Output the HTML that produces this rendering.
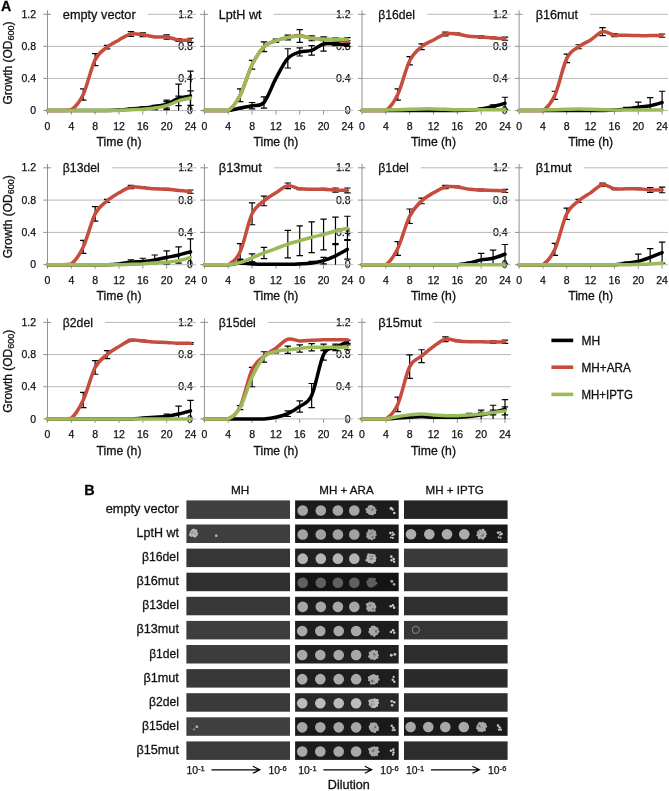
<!DOCTYPE html>
<html><head><meta charset="utf-8"><style>html,body{margin:0;padding:0;background:#fff;width:669px;height:791px;overflow:hidden}svg{display:block;will-change:transform}text{stroke:#111;stroke-width:0.3px}text.t{stroke-width:0.25px}</style></head><body>
<svg width="669" height="791" viewBox="0 0 669 791" font-family='"Liberation Sans", sans-serif' fill="#111">
<rect width="669" height="791" fill="#fff"/>
<text x="0.9" y="10.9" font-size="14.2" font-weight="bold" fill="#000">A</text>
<text class="t" x="36" y="114.1" font-size="10.5" text-anchor="end">0</text>
<text class="t" x="36" y="82.03" font-size="10.5" text-anchor="end">0.4</text>
<text class="t" x="36" y="49.97" font-size="10.5" text-anchor="end">0.8</text>
<text class="t" x="36" y="17.9" font-size="10.5" text-anchor="end">1.2</text>
<text class="t" x="47.5" y="130" font-size="10.5" text-anchor="middle">0</text>
<text class="t" x="71.33" y="130" font-size="10.5" text-anchor="middle">4</text>
<text class="t" x="95.17" y="130" font-size="10.5" text-anchor="middle">8</text>
<text class="t" x="119" y="130" font-size="10.5" text-anchor="middle">12</text>
<text class="t" x="142.83" y="130" font-size="10.5" text-anchor="middle">16</text>
<text class="t" x="166.67" y="130" font-size="10.5" text-anchor="middle">20</text>
<text class="t" x="190.5" y="130" font-size="10.5" text-anchor="middle">24</text>
<text class="t" x="192.9" y="114.1" font-size="10.5" text-anchor="end">0</text>
<text class="t" x="192.9" y="82.03" font-size="10.5" text-anchor="end">0.4</text>
<text class="t" x="192.9" y="49.97" font-size="10.5" text-anchor="end">0.8</text>
<text class="t" x="192.9" y="17.9" font-size="10.5" text-anchor="end">1.2</text>
<text class="t" x="204.4" y="130" font-size="10.5" text-anchor="middle">0</text>
<text class="t" x="228.23" y="130" font-size="10.5" text-anchor="middle">4</text>
<text class="t" x="252.07" y="130" font-size="10.5" text-anchor="middle">8</text>
<text class="t" x="275.9" y="130" font-size="10.5" text-anchor="middle">12</text>
<text class="t" x="299.73" y="130" font-size="10.5" text-anchor="middle">16</text>
<text class="t" x="323.57" y="130" font-size="10.5" text-anchor="middle">20</text>
<text class="t" x="347.4" y="130" font-size="10.5" text-anchor="middle">24</text>
<text class="t" x="350.5" y="114.1" font-size="10.5" text-anchor="end">0</text>
<text class="t" x="350.5" y="82.03" font-size="10.5" text-anchor="end">0.4</text>
<text class="t" x="350.5" y="49.97" font-size="10.5" text-anchor="end">0.8</text>
<text class="t" x="350.5" y="17.9" font-size="10.5" text-anchor="end">1.2</text>
<text class="t" x="362" y="130" font-size="10.5" text-anchor="middle">0</text>
<text class="t" x="385.83" y="130" font-size="10.5" text-anchor="middle">4</text>
<text class="t" x="409.67" y="130" font-size="10.5" text-anchor="middle">8</text>
<text class="t" x="433.5" y="130" font-size="10.5" text-anchor="middle">12</text>
<text class="t" x="457.33" y="130" font-size="10.5" text-anchor="middle">16</text>
<text class="t" x="481.17" y="130" font-size="10.5" text-anchor="middle">20</text>
<text class="t" x="505" y="130" font-size="10.5" text-anchor="middle">24</text>
<text class="t" x="507.6" y="114.1" font-size="10.5" text-anchor="end">0</text>
<text class="t" x="507.6" y="82.03" font-size="10.5" text-anchor="end">0.4</text>
<text class="t" x="507.6" y="49.97" font-size="10.5" text-anchor="end">0.8</text>
<text class="t" x="507.6" y="17.9" font-size="10.5" text-anchor="end">1.2</text>
<text class="t" x="519.1" y="130" font-size="10.5" text-anchor="middle">0</text>
<text class="t" x="542.93" y="130" font-size="10.5" text-anchor="middle">4</text>
<text class="t" x="566.77" y="130" font-size="10.5" text-anchor="middle">8</text>
<text class="t" x="590.6" y="130" font-size="10.5" text-anchor="middle">12</text>
<text class="t" x="614.43" y="130" font-size="10.5" text-anchor="middle">16</text>
<text class="t" x="638.27" y="130" font-size="10.5" text-anchor="middle">20</text>
<text class="t" x="662.1" y="130" font-size="10.5" text-anchor="middle">24</text>
<text class="t" x="36" y="268.3" font-size="10.5" text-anchor="end">0</text>
<text class="t" x="36" y="236" font-size="10.5" text-anchor="end">0.4</text>
<text class="t" x="36" y="203.7" font-size="10.5" text-anchor="end">0.8</text>
<text class="t" x="36" y="171.4" font-size="10.5" text-anchor="end">1.2</text>
<text class="t" x="47.5" y="284.2" font-size="10.5" text-anchor="middle">0</text>
<text class="t" x="71.33" y="284.2" font-size="10.5" text-anchor="middle">4</text>
<text class="t" x="95.17" y="284.2" font-size="10.5" text-anchor="middle">8</text>
<text class="t" x="119" y="284.2" font-size="10.5" text-anchor="middle">12</text>
<text class="t" x="142.83" y="284.2" font-size="10.5" text-anchor="middle">16</text>
<text class="t" x="166.67" y="284.2" font-size="10.5" text-anchor="middle">20</text>
<text class="t" x="190.5" y="284.2" font-size="10.5" text-anchor="middle">24</text>
<text class="t" x="192.9" y="268.3" font-size="10.5" text-anchor="end">0</text>
<text class="t" x="192.9" y="236" font-size="10.5" text-anchor="end">0.4</text>
<text class="t" x="192.9" y="203.7" font-size="10.5" text-anchor="end">0.8</text>
<text class="t" x="192.9" y="171.4" font-size="10.5" text-anchor="end">1.2</text>
<text class="t" x="204.4" y="284.2" font-size="10.5" text-anchor="middle">0</text>
<text class="t" x="228.23" y="284.2" font-size="10.5" text-anchor="middle">4</text>
<text class="t" x="252.07" y="284.2" font-size="10.5" text-anchor="middle">8</text>
<text class="t" x="275.9" y="284.2" font-size="10.5" text-anchor="middle">12</text>
<text class="t" x="299.73" y="284.2" font-size="10.5" text-anchor="middle">16</text>
<text class="t" x="323.57" y="284.2" font-size="10.5" text-anchor="middle">20</text>
<text class="t" x="347.4" y="284.2" font-size="10.5" text-anchor="middle">24</text>
<text class="t" x="350.5" y="268.3" font-size="10.5" text-anchor="end">0</text>
<text class="t" x="350.5" y="236" font-size="10.5" text-anchor="end">0.4</text>
<text class="t" x="350.5" y="203.7" font-size="10.5" text-anchor="end">0.8</text>
<text class="t" x="350.5" y="171.4" font-size="10.5" text-anchor="end">1.2</text>
<text class="t" x="362" y="284.2" font-size="10.5" text-anchor="middle">0</text>
<text class="t" x="385.83" y="284.2" font-size="10.5" text-anchor="middle">4</text>
<text class="t" x="409.67" y="284.2" font-size="10.5" text-anchor="middle">8</text>
<text class="t" x="433.5" y="284.2" font-size="10.5" text-anchor="middle">12</text>
<text class="t" x="457.33" y="284.2" font-size="10.5" text-anchor="middle">16</text>
<text class="t" x="481.17" y="284.2" font-size="10.5" text-anchor="middle">20</text>
<text class="t" x="505" y="284.2" font-size="10.5" text-anchor="middle">24</text>
<text class="t" x="507.6" y="268.3" font-size="10.5" text-anchor="end">0</text>
<text class="t" x="507.6" y="236" font-size="10.5" text-anchor="end">0.4</text>
<text class="t" x="507.6" y="203.7" font-size="10.5" text-anchor="end">0.8</text>
<text class="t" x="507.6" y="171.4" font-size="10.5" text-anchor="end">1.2</text>
<text class="t" x="519.1" y="284.2" font-size="10.5" text-anchor="middle">0</text>
<text class="t" x="542.93" y="284.2" font-size="10.5" text-anchor="middle">4</text>
<text class="t" x="566.77" y="284.2" font-size="10.5" text-anchor="middle">8</text>
<text class="t" x="590.6" y="284.2" font-size="10.5" text-anchor="middle">12</text>
<text class="t" x="614.43" y="284.2" font-size="10.5" text-anchor="middle">16</text>
<text class="t" x="638.27" y="284.2" font-size="10.5" text-anchor="middle">20</text>
<text class="t" x="662.1" y="284.2" font-size="10.5" text-anchor="middle">24</text>
<text class="t" x="36" y="422.5" font-size="10.5" text-anchor="end">0</text>
<text class="t" x="36" y="390.33" font-size="10.5" text-anchor="end">0.4</text>
<text class="t" x="36" y="358.17" font-size="10.5" text-anchor="end">0.8</text>
<text class="t" x="36" y="326" font-size="10.5" text-anchor="end">1.2</text>
<text class="t" x="47.5" y="438.4" font-size="10.5" text-anchor="middle">0</text>
<text class="t" x="71.33" y="438.4" font-size="10.5" text-anchor="middle">4</text>
<text class="t" x="95.17" y="438.4" font-size="10.5" text-anchor="middle">8</text>
<text class="t" x="119" y="438.4" font-size="10.5" text-anchor="middle">12</text>
<text class="t" x="142.83" y="438.4" font-size="10.5" text-anchor="middle">16</text>
<text class="t" x="166.67" y="438.4" font-size="10.5" text-anchor="middle">20</text>
<text class="t" x="190.5" y="438.4" font-size="10.5" text-anchor="middle">24</text>
<text class="t" x="192.9" y="422.5" font-size="10.5" text-anchor="end">0</text>
<text class="t" x="192.9" y="390.33" font-size="10.5" text-anchor="end">0.4</text>
<text class="t" x="192.9" y="358.17" font-size="10.5" text-anchor="end">0.8</text>
<text class="t" x="192.9" y="326" font-size="10.5" text-anchor="end">1.2</text>
<text class="t" x="204.4" y="438.4" font-size="10.5" text-anchor="middle">0</text>
<text class="t" x="228.23" y="438.4" font-size="10.5" text-anchor="middle">4</text>
<text class="t" x="252.07" y="438.4" font-size="10.5" text-anchor="middle">8</text>
<text class="t" x="275.9" y="438.4" font-size="10.5" text-anchor="middle">12</text>
<text class="t" x="299.73" y="438.4" font-size="10.5" text-anchor="middle">16</text>
<text class="t" x="323.57" y="438.4" font-size="10.5" text-anchor="middle">20</text>
<text class="t" x="347.4" y="438.4" font-size="10.5" text-anchor="middle">24</text>
<text class="t" x="350.5" y="422.5" font-size="10.5" text-anchor="end">0</text>
<text class="t" x="350.5" y="390.33" font-size="10.5" text-anchor="end">0.4</text>
<text class="t" x="350.5" y="358.17" font-size="10.5" text-anchor="end">0.8</text>
<text class="t" x="350.5" y="326" font-size="10.5" text-anchor="end">1.2</text>
<text class="t" x="362" y="438.4" font-size="10.5" text-anchor="middle">0</text>
<text class="t" x="385.83" y="438.4" font-size="10.5" text-anchor="middle">4</text>
<text class="t" x="409.67" y="438.4" font-size="10.5" text-anchor="middle">8</text>
<text class="t" x="433.5" y="438.4" font-size="10.5" text-anchor="middle">12</text>
<text class="t" x="457.33" y="438.4" font-size="10.5" text-anchor="middle">16</text>
<text class="t" x="481.17" y="438.4" font-size="10.5" text-anchor="middle">20</text>
<text class="t" x="505" y="438.4" font-size="10.5" text-anchor="middle">24</text>
<line x1="47.5" y1="78.43" x2="196.2" y2="78.43" stroke="#B8B8B8" stroke-width="1"/>
<line x1="47.5" y1="46.37" x2="196.2" y2="46.37" stroke="#B8B8B8" stroke-width="1"/>
<line x1="47.5" y1="14.3" x2="196.2" y2="14.3" stroke="#B8B8B8" stroke-width="1"/>
<line x1="47.5" y1="110.5" x2="196.2" y2="110.5" stroke="#B8B8B8" stroke-width="1"/>
<rect x="48.5" y="8.3" width="99.2" height="12" fill="#fff"/>
<line x1="47.5" y1="10.3" x2="47.5" y2="114.5" stroke="#929292" stroke-width="1"/>
<line x1="43.3" y1="110.5" x2="47.5" y2="110.5" stroke="#929292" stroke-width="1"/>
<line x1="43.3" y1="78.43" x2="47.5" y2="78.43" stroke="#929292" stroke-width="1"/>
<line x1="43.3" y1="46.37" x2="47.5" y2="46.37" stroke="#929292" stroke-width="1"/>
<line x1="43.3" y1="14.3" x2="51.1" y2="14.3" stroke="#929292" stroke-width="1"/>
<line x1="71.33" y1="110.5" x2="71.33" y2="114.5" stroke="#929292" stroke-width="1"/>
<line x1="95.17" y1="110.5" x2="95.17" y2="114.5" stroke="#929292" stroke-width="1"/>
<line x1="119" y1="110.5" x2="119" y2="114.5" stroke="#929292" stroke-width="1"/>
<line x1="142.83" y1="110.5" x2="142.83" y2="114.5" stroke="#929292" stroke-width="1"/>
<line x1="166.67" y1="110.5" x2="166.67" y2="114.5" stroke="#929292" stroke-width="1"/>
<line x1="190.5" y1="110.5" x2="190.5" y2="114.5" stroke="#929292" stroke-width="1"/>
<text x="62.8" y="18.8" font-size="13.6" textLength="72.9" lengthAdjust="spacingAndGlyphs">empty vector</text>
<text x="119" y="146.1" font-size="12" text-anchor="middle" textLength="44.9" lengthAdjust="spacingAndGlyphs">Time (h)</text>
<line x1="204.4" y1="78.43" x2="353.1" y2="78.43" stroke="#B8B8B8" stroke-width="1"/>
<line x1="204.4" y1="46.37" x2="353.1" y2="46.37" stroke="#B8B8B8" stroke-width="1"/>
<line x1="204.4" y1="14.3" x2="353.1" y2="14.3" stroke="#B8B8B8" stroke-width="1"/>
<line x1="204.4" y1="110.5" x2="353.1" y2="110.5" stroke="#B8B8B8" stroke-width="1"/>
<rect x="205.4" y="8.3" width="68.1" height="12" fill="#fff"/>
<line x1="204.4" y1="10.3" x2="204.4" y2="114.5" stroke="#929292" stroke-width="1"/>
<line x1="200.2" y1="110.5" x2="204.4" y2="110.5" stroke="#929292" stroke-width="1"/>
<line x1="200.2" y1="78.43" x2="204.4" y2="78.43" stroke="#929292" stroke-width="1"/>
<line x1="200.2" y1="46.37" x2="204.4" y2="46.37" stroke="#929292" stroke-width="1"/>
<line x1="200.2" y1="14.3" x2="208" y2="14.3" stroke="#929292" stroke-width="1"/>
<line x1="228.23" y1="110.5" x2="228.23" y2="114.5" stroke="#929292" stroke-width="1"/>
<line x1="252.07" y1="110.5" x2="252.07" y2="114.5" stroke="#929292" stroke-width="1"/>
<line x1="275.9" y1="110.5" x2="275.9" y2="114.5" stroke="#929292" stroke-width="1"/>
<line x1="299.73" y1="110.5" x2="299.73" y2="114.5" stroke="#929292" stroke-width="1"/>
<line x1="323.57" y1="110.5" x2="323.57" y2="114.5" stroke="#929292" stroke-width="1"/>
<line x1="347.4" y1="110.5" x2="347.4" y2="114.5" stroke="#929292" stroke-width="1"/>
<text x="218.8" y="18.8" font-size="13.6" textLength="42.7" lengthAdjust="spacingAndGlyphs">LptH wt</text>
<text x="275.9" y="146.1" font-size="12" text-anchor="middle" textLength="44.9" lengthAdjust="spacingAndGlyphs">Time (h)</text>
<line x1="362" y1="78.43" x2="510.7" y2="78.43" stroke="#B8B8B8" stroke-width="1"/>
<line x1="362" y1="46.37" x2="510.7" y2="46.37" stroke="#B8B8B8" stroke-width="1"/>
<line x1="362" y1="14.3" x2="510.7" y2="14.3" stroke="#B8B8B8" stroke-width="1"/>
<line x1="362" y1="110.5" x2="510.7" y2="110.5" stroke="#B8B8B8" stroke-width="1"/>
<rect x="363" y="8.3" width="64.1" height="12" fill="#fff"/>
<line x1="362" y1="10.3" x2="362" y2="114.5" stroke="#929292" stroke-width="1"/>
<line x1="357.8" y1="110.5" x2="362" y2="110.5" stroke="#929292" stroke-width="1"/>
<line x1="357.8" y1="78.43" x2="362" y2="78.43" stroke="#929292" stroke-width="1"/>
<line x1="357.8" y1="46.37" x2="362" y2="46.37" stroke="#929292" stroke-width="1"/>
<line x1="357.8" y1="14.3" x2="365.6" y2="14.3" stroke="#929292" stroke-width="1"/>
<line x1="385.83" y1="110.5" x2="385.83" y2="114.5" stroke="#929292" stroke-width="1"/>
<line x1="409.67" y1="110.5" x2="409.67" y2="114.5" stroke="#929292" stroke-width="1"/>
<line x1="433.5" y1="110.5" x2="433.5" y2="114.5" stroke="#929292" stroke-width="1"/>
<line x1="457.33" y1="110.5" x2="457.33" y2="114.5" stroke="#929292" stroke-width="1"/>
<line x1="481.17" y1="110.5" x2="481.17" y2="114.5" stroke="#929292" stroke-width="1"/>
<line x1="505" y1="110.5" x2="505" y2="114.5" stroke="#929292" stroke-width="1"/>
<text x="378.2" y="18.8" font-size="13.6" textLength="36.9" lengthAdjust="spacingAndGlyphs">β16del</text>
<text x="433.5" y="146.1" font-size="12" text-anchor="middle" textLength="44.9" lengthAdjust="spacingAndGlyphs">Time (h)</text>
<line x1="519.1" y1="78.43" x2="667.8" y2="78.43" stroke="#B8B8B8" stroke-width="1"/>
<line x1="519.1" y1="46.37" x2="667.8" y2="46.37" stroke="#B8B8B8" stroke-width="1"/>
<line x1="519.1" y1="14.3" x2="667.8" y2="14.3" stroke="#B8B8B8" stroke-width="1"/>
<line x1="519.1" y1="110.5" x2="667.8" y2="110.5" stroke="#B8B8B8" stroke-width="1"/>
<rect x="520.1" y="8.3" width="69.9" height="12" fill="#fff"/>
<line x1="519.1" y1="10.3" x2="519.1" y2="114.5" stroke="#929292" stroke-width="1"/>
<line x1="514.9" y1="110.5" x2="519.1" y2="110.5" stroke="#929292" stroke-width="1"/>
<line x1="514.9" y1="78.43" x2="519.1" y2="78.43" stroke="#929292" stroke-width="1"/>
<line x1="514.9" y1="46.37" x2="519.1" y2="46.37" stroke="#929292" stroke-width="1"/>
<line x1="514.9" y1="14.3" x2="522.7" y2="14.3" stroke="#929292" stroke-width="1"/>
<line x1="542.93" y1="110.5" x2="542.93" y2="114.5" stroke="#929292" stroke-width="1"/>
<line x1="566.77" y1="110.5" x2="566.77" y2="114.5" stroke="#929292" stroke-width="1"/>
<line x1="590.6" y1="110.5" x2="590.6" y2="114.5" stroke="#929292" stroke-width="1"/>
<line x1="614.43" y1="110.5" x2="614.43" y2="114.5" stroke="#929292" stroke-width="1"/>
<line x1="638.27" y1="110.5" x2="638.27" y2="114.5" stroke="#929292" stroke-width="1"/>
<line x1="662.1" y1="110.5" x2="662.1" y2="114.5" stroke="#929292" stroke-width="1"/>
<text x="535.7" y="18.8" font-size="13.6" textLength="42.3" lengthAdjust="spacingAndGlyphs">β16mut</text>
<text x="590.6" y="146.1" font-size="12" text-anchor="middle" textLength="44.9" lengthAdjust="spacingAndGlyphs">Time (h)</text>
<line x1="47.5" y1="232.4" x2="196.2" y2="232.4" stroke="#B8B8B8" stroke-width="1"/>
<line x1="47.5" y1="200.1" x2="196.2" y2="200.1" stroke="#B8B8B8" stroke-width="1"/>
<line x1="47.5" y1="167.8" x2="196.2" y2="167.8" stroke="#B8B8B8" stroke-width="1"/>
<line x1="47.5" y1="264.7" x2="196.2" y2="264.7" stroke="#B8B8B8" stroke-width="1"/>
<rect x="48.5" y="161.8" width="63.3" height="12" fill="#fff"/>
<line x1="47.5" y1="163.8" x2="47.5" y2="268.7" stroke="#929292" stroke-width="1"/>
<line x1="43.3" y1="264.7" x2="47.5" y2="264.7" stroke="#929292" stroke-width="1"/>
<line x1="43.3" y1="232.4" x2="47.5" y2="232.4" stroke="#929292" stroke-width="1"/>
<line x1="43.3" y1="200.1" x2="47.5" y2="200.1" stroke="#929292" stroke-width="1"/>
<line x1="43.3" y1="167.8" x2="51.1" y2="167.8" stroke="#929292" stroke-width="1"/>
<line x1="71.33" y1="264.7" x2="71.33" y2="268.7" stroke="#929292" stroke-width="1"/>
<line x1="95.17" y1="264.7" x2="95.17" y2="268.7" stroke="#929292" stroke-width="1"/>
<line x1="119" y1="264.7" x2="119" y2="268.7" stroke="#929292" stroke-width="1"/>
<line x1="142.83" y1="264.7" x2="142.83" y2="268.7" stroke="#929292" stroke-width="1"/>
<line x1="166.67" y1="264.7" x2="166.67" y2="268.7" stroke="#929292" stroke-width="1"/>
<line x1="190.5" y1="264.7" x2="190.5" y2="268.7" stroke="#929292" stroke-width="1"/>
<text x="62.8" y="172.3" font-size="13.6" textLength="37" lengthAdjust="spacingAndGlyphs">β13del</text>
<text x="119" y="300.3" font-size="12" text-anchor="middle" textLength="44.9" lengthAdjust="spacingAndGlyphs">Time (h)</text>
<line x1="204.4" y1="232.4" x2="353.1" y2="232.4" stroke="#B8B8B8" stroke-width="1"/>
<line x1="204.4" y1="200.1" x2="353.1" y2="200.1" stroke="#B8B8B8" stroke-width="1"/>
<line x1="204.4" y1="167.8" x2="353.1" y2="167.8" stroke="#B8B8B8" stroke-width="1"/>
<line x1="204.4" y1="264.7" x2="353.1" y2="264.7" stroke="#B8B8B8" stroke-width="1"/>
<rect x="205.4" y="161.8" width="68.4" height="12" fill="#fff"/>
<line x1="204.4" y1="163.8" x2="204.4" y2="268.7" stroke="#929292" stroke-width="1"/>
<line x1="200.2" y1="264.7" x2="204.4" y2="264.7" stroke="#929292" stroke-width="1"/>
<line x1="200.2" y1="232.4" x2="204.4" y2="232.4" stroke="#929292" stroke-width="1"/>
<line x1="200.2" y1="200.1" x2="204.4" y2="200.1" stroke="#929292" stroke-width="1"/>
<line x1="200.2" y1="167.8" x2="208" y2="167.8" stroke="#929292" stroke-width="1"/>
<line x1="228.23" y1="264.7" x2="228.23" y2="268.7" stroke="#929292" stroke-width="1"/>
<line x1="252.07" y1="264.7" x2="252.07" y2="268.7" stroke="#929292" stroke-width="1"/>
<line x1="275.9" y1="264.7" x2="275.9" y2="268.7" stroke="#929292" stroke-width="1"/>
<line x1="299.73" y1="264.7" x2="299.73" y2="268.7" stroke="#929292" stroke-width="1"/>
<line x1="323.57" y1="264.7" x2="323.57" y2="268.7" stroke="#929292" stroke-width="1"/>
<line x1="347.4" y1="264.7" x2="347.4" y2="268.7" stroke="#929292" stroke-width="1"/>
<text x="218.8" y="172.3" font-size="13.6" textLength="43" lengthAdjust="spacingAndGlyphs">β13mut</text>
<text x="275.9" y="300.3" font-size="12" text-anchor="middle" textLength="44.9" lengthAdjust="spacingAndGlyphs">Time (h)</text>
<line x1="362" y1="232.4" x2="510.7" y2="232.4" stroke="#B8B8B8" stroke-width="1"/>
<line x1="362" y1="200.1" x2="510.7" y2="200.1" stroke="#B8B8B8" stroke-width="1"/>
<line x1="362" y1="167.8" x2="510.7" y2="167.8" stroke="#B8B8B8" stroke-width="1"/>
<line x1="362" y1="264.7" x2="510.7" y2="264.7" stroke="#B8B8B8" stroke-width="1"/>
<rect x="363" y="161.8" width="57.8" height="12" fill="#fff"/>
<line x1="362" y1="163.8" x2="362" y2="268.7" stroke="#929292" stroke-width="1"/>
<line x1="357.8" y1="264.7" x2="362" y2="264.7" stroke="#929292" stroke-width="1"/>
<line x1="357.8" y1="232.4" x2="362" y2="232.4" stroke="#929292" stroke-width="1"/>
<line x1="357.8" y1="200.1" x2="362" y2="200.1" stroke="#929292" stroke-width="1"/>
<line x1="357.8" y1="167.8" x2="365.6" y2="167.8" stroke="#929292" stroke-width="1"/>
<line x1="385.83" y1="264.7" x2="385.83" y2="268.7" stroke="#929292" stroke-width="1"/>
<line x1="409.67" y1="264.7" x2="409.67" y2="268.7" stroke="#929292" stroke-width="1"/>
<line x1="433.5" y1="264.7" x2="433.5" y2="268.7" stroke="#929292" stroke-width="1"/>
<line x1="457.33" y1="264.7" x2="457.33" y2="268.7" stroke="#929292" stroke-width="1"/>
<line x1="481.17" y1="264.7" x2="481.17" y2="268.7" stroke="#929292" stroke-width="1"/>
<line x1="505" y1="264.7" x2="505" y2="268.7" stroke="#929292" stroke-width="1"/>
<text x="378.2" y="172.3" font-size="13.6" textLength="30.6" lengthAdjust="spacingAndGlyphs">β1del</text>
<text x="433.5" y="300.3" font-size="12" text-anchor="middle" textLength="44.9" lengthAdjust="spacingAndGlyphs">Time (h)</text>
<line x1="519.1" y1="232.4" x2="667.8" y2="232.4" stroke="#B8B8B8" stroke-width="1"/>
<line x1="519.1" y1="200.1" x2="667.8" y2="200.1" stroke="#B8B8B8" stroke-width="1"/>
<line x1="519.1" y1="167.8" x2="667.8" y2="167.8" stroke="#B8B8B8" stroke-width="1"/>
<line x1="519.1" y1="264.7" x2="667.8" y2="264.7" stroke="#B8B8B8" stroke-width="1"/>
<rect x="520.1" y="161.8" width="63.5" height="12" fill="#fff"/>
<line x1="519.1" y1="163.8" x2="519.1" y2="268.7" stroke="#929292" stroke-width="1"/>
<line x1="514.9" y1="264.7" x2="519.1" y2="264.7" stroke="#929292" stroke-width="1"/>
<line x1="514.9" y1="232.4" x2="519.1" y2="232.4" stroke="#929292" stroke-width="1"/>
<line x1="514.9" y1="200.1" x2="519.1" y2="200.1" stroke="#929292" stroke-width="1"/>
<line x1="514.9" y1="167.8" x2="522.7" y2="167.8" stroke="#929292" stroke-width="1"/>
<line x1="542.93" y1="264.7" x2="542.93" y2="268.7" stroke="#929292" stroke-width="1"/>
<line x1="566.77" y1="264.7" x2="566.77" y2="268.7" stroke="#929292" stroke-width="1"/>
<line x1="590.6" y1="264.7" x2="590.6" y2="268.7" stroke="#929292" stroke-width="1"/>
<line x1="614.43" y1="264.7" x2="614.43" y2="268.7" stroke="#929292" stroke-width="1"/>
<line x1="638.27" y1="264.7" x2="638.27" y2="268.7" stroke="#929292" stroke-width="1"/>
<line x1="662.1" y1="264.7" x2="662.1" y2="268.7" stroke="#929292" stroke-width="1"/>
<text x="535.7" y="172.3" font-size="13.6" textLength="35.9" lengthAdjust="spacingAndGlyphs">β1mut</text>
<text x="590.6" y="300.3" font-size="12" text-anchor="middle" textLength="44.9" lengthAdjust="spacingAndGlyphs">Time (h)</text>
<line x1="47.5" y1="386.73" x2="196.2" y2="386.73" stroke="#B8B8B8" stroke-width="1"/>
<line x1="47.5" y1="354.57" x2="196.2" y2="354.57" stroke="#B8B8B8" stroke-width="1"/>
<line x1="47.5" y1="322.4" x2="196.2" y2="322.4" stroke="#B8B8B8" stroke-width="1"/>
<line x1="47.5" y1="418.9" x2="196.2" y2="418.9" stroke="#B8B8B8" stroke-width="1"/>
<rect x="48.5" y="316.4" width="56.4" height="12" fill="#fff"/>
<line x1="47.5" y1="318.4" x2="47.5" y2="422.9" stroke="#929292" stroke-width="1"/>
<line x1="43.3" y1="418.9" x2="47.5" y2="418.9" stroke="#929292" stroke-width="1"/>
<line x1="43.3" y1="386.73" x2="47.5" y2="386.73" stroke="#929292" stroke-width="1"/>
<line x1="43.3" y1="354.57" x2="47.5" y2="354.57" stroke="#929292" stroke-width="1"/>
<line x1="43.3" y1="322.4" x2="51.1" y2="322.4" stroke="#929292" stroke-width="1"/>
<line x1="71.33" y1="418.9" x2="71.33" y2="422.9" stroke="#929292" stroke-width="1"/>
<line x1="95.17" y1="418.9" x2="95.17" y2="422.9" stroke="#929292" stroke-width="1"/>
<line x1="119" y1="418.9" x2="119" y2="422.9" stroke="#929292" stroke-width="1"/>
<line x1="142.83" y1="418.9" x2="142.83" y2="422.9" stroke="#929292" stroke-width="1"/>
<line x1="166.67" y1="418.9" x2="166.67" y2="422.9" stroke="#929292" stroke-width="1"/>
<line x1="190.5" y1="418.9" x2="190.5" y2="422.9" stroke="#929292" stroke-width="1"/>
<text x="62.8" y="326.9" font-size="13.6" textLength="30.1" lengthAdjust="spacingAndGlyphs">β2del</text>
<text x="119" y="454.5" font-size="12" text-anchor="middle" textLength="44.9" lengthAdjust="spacingAndGlyphs">Time (h)</text>
<line x1="204.4" y1="386.73" x2="353.1" y2="386.73" stroke="#B8B8B8" stroke-width="1"/>
<line x1="204.4" y1="354.57" x2="353.1" y2="354.57" stroke="#B8B8B8" stroke-width="1"/>
<line x1="204.4" y1="322.4" x2="353.1" y2="322.4" stroke="#B8B8B8" stroke-width="1"/>
<line x1="204.4" y1="418.9" x2="353.1" y2="418.9" stroke="#B8B8B8" stroke-width="1"/>
<rect x="205.4" y="316.4" width="62.4" height="12" fill="#fff"/>
<line x1="204.4" y1="318.4" x2="204.4" y2="422.9" stroke="#929292" stroke-width="1"/>
<line x1="200.2" y1="418.9" x2="204.4" y2="418.9" stroke="#929292" stroke-width="1"/>
<line x1="200.2" y1="386.73" x2="204.4" y2="386.73" stroke="#929292" stroke-width="1"/>
<line x1="200.2" y1="354.57" x2="204.4" y2="354.57" stroke="#929292" stroke-width="1"/>
<line x1="200.2" y1="322.4" x2="208" y2="322.4" stroke="#929292" stroke-width="1"/>
<line x1="228.23" y1="418.9" x2="228.23" y2="422.9" stroke="#929292" stroke-width="1"/>
<line x1="252.07" y1="418.9" x2="252.07" y2="422.9" stroke="#929292" stroke-width="1"/>
<line x1="275.9" y1="418.9" x2="275.9" y2="422.9" stroke="#929292" stroke-width="1"/>
<line x1="299.73" y1="418.9" x2="299.73" y2="422.9" stroke="#929292" stroke-width="1"/>
<line x1="323.57" y1="418.9" x2="323.57" y2="422.9" stroke="#929292" stroke-width="1"/>
<line x1="347.4" y1="418.9" x2="347.4" y2="422.9" stroke="#929292" stroke-width="1"/>
<text x="218.8" y="326.9" font-size="13.6" textLength="37" lengthAdjust="spacingAndGlyphs">β15del</text>
<text x="275.9" y="454.5" font-size="12" text-anchor="middle" textLength="44.9" lengthAdjust="spacingAndGlyphs">Time (h)</text>
<line x1="362" y1="386.73" x2="510.7" y2="386.73" stroke="#B8B8B8" stroke-width="1"/>
<line x1="362" y1="354.57" x2="510.7" y2="354.57" stroke="#B8B8B8" stroke-width="1"/>
<line x1="362" y1="322.4" x2="510.7" y2="322.4" stroke="#B8B8B8" stroke-width="1"/>
<line x1="362" y1="418.9" x2="510.7" y2="418.9" stroke="#B8B8B8" stroke-width="1"/>
<rect x="363" y="316.4" width="70.5" height="12" fill="#fff"/>
<line x1="362" y1="318.4" x2="362" y2="422.9" stroke="#929292" stroke-width="1"/>
<line x1="357.8" y1="418.9" x2="362" y2="418.9" stroke="#929292" stroke-width="1"/>
<line x1="357.8" y1="386.73" x2="362" y2="386.73" stroke="#929292" stroke-width="1"/>
<line x1="357.8" y1="354.57" x2="362" y2="354.57" stroke="#929292" stroke-width="1"/>
<line x1="357.8" y1="322.4" x2="365.6" y2="322.4" stroke="#929292" stroke-width="1"/>
<line x1="385.83" y1="418.9" x2="385.83" y2="422.9" stroke="#929292" stroke-width="1"/>
<line x1="409.67" y1="418.9" x2="409.67" y2="422.9" stroke="#929292" stroke-width="1"/>
<line x1="433.5" y1="418.9" x2="433.5" y2="422.9" stroke="#929292" stroke-width="1"/>
<line x1="457.33" y1="418.9" x2="457.33" y2="422.9" stroke="#929292" stroke-width="1"/>
<line x1="481.17" y1="418.9" x2="481.17" y2="422.9" stroke="#929292" stroke-width="1"/>
<line x1="505" y1="418.9" x2="505" y2="422.9" stroke="#929292" stroke-width="1"/>
<text x="378.2" y="326.9" font-size="13.6" textLength="43.3" lengthAdjust="spacingAndGlyphs">β15mut</text>
<text x="433.5" y="454.5" font-size="12" text-anchor="middle" textLength="44.9" lengthAdjust="spacingAndGlyphs">Time (h)</text>
<path d="M130.92,108.09 V109.7 M127.72,108.09 h6.4 M127.72,109.7 h6.4 M142.83,106.89 V109.3 M139.63,106.89 h6.4 M139.63,109.3 h6.4 M154.75,105.29 V107.69 M151.55,105.29 h6.4 M151.55,107.69 h6.4 M166.67,100.08 V108.09 M163.47,100.08 h6.4 M163.47,108.09 h6.4 M178.58,84.05 V110.5 M175.38,84.05 h6.4 M190.5,71.22 V110.5 M187.3,71.22 h6.4" fill="none" stroke="#000" stroke-width="1.2"/>
<path d="M83.25,88.85 V100.08 M80.05,88.85 h6.4 M80.05,100.08 h6.4 M95.17,53.58 V65.61 M91.97,53.58 h6.4 M91.97,65.61 h6.4 M107.08,45.4 V48.93 M103.88,45.4 h6.4 M103.88,48.93 h6.4 M130.92,31.54 V36.35 M127.72,31.54 h6.4 M127.72,36.35 h6.4 M142.83,32.9 V36.59 M139.63,32.9 h6.4 M139.63,36.59 h6.4 M166.67,34.9 V39.07 M163.47,34.9 h6.4 M163.47,39.07 h6.4 M178.58,38.51 V41.4 M175.38,38.51 h6.4 M175.38,41.4 h6.4 M190.5,38.27 V42.28 M187.3,38.27 h6.4 M187.3,42.28 h6.4" fill="none" stroke="#000" stroke-width="1.2"/>
<path d="M142.83,108.5 V110.1 M139.63,108.5 h6.4 M139.63,110.1 h6.4 M154.75,106.49 V109.7 M151.55,106.49 h6.4 M151.55,109.7 h6.4 M166.67,101.68 V109.7 M163.47,101.68 h6.4 M163.47,109.7 h6.4 M178.58,96.07 V105.69 M175.38,96.07 h6.4 M175.38,105.69 h6.4 M190.5,90.86 V105.29 M187.3,90.86 h6.4 M187.3,105.29 h6.4" fill="none" stroke="#000" stroke-width="1.2"/>
<path d="M47.5,110.5 C49.49,110.5 55.44,110.5 59.42,110.5 C63.39,110.5 67.36,110.5 71.33,110.5 C75.31,110.5 79.28,110.5 83.25,110.5 C87.22,110.5 91.19,110.5 95.17,110.5 C99.14,110.5 103.11,110.5 107.08,110.5 C111.06,110.43 115.03,110.37 119,110.1 C122.97,109.83 126.94,109.23 130.92,108.9 C134.89,108.56 138.86,108.5 142.83,108.09 C146.81,107.69 150.78,107.16 154.75,106.49 C158.72,105.82 162.69,105.42 166.67,104.09 C170.64,102.75 174.61,99.81 178.58,98.47 C182.56,97.14 188.51,96.47 190.5,96.07" fill="none" stroke="#000000" stroke-width="3.5" stroke-linejoin="round" stroke-linecap="round"/>
<path d="M47.5,110.5 C49.49,110.5 55.44,110.5 59.42,110.5 C63.39,110.37 67.36,110.5 71.33,109.7 C75.31,107.03 79.28,102.82 83.25,94.47 C87.22,86.12 91.19,67.48 95.17,59.59 C99.14,51.71 103.11,50.44 107.08,47.17 C111.06,43.89 115.03,42.16 119,39.95 C122.97,37.75 126.94,34.81 130.92,33.94 C134.89,33.07 138.86,34.23 142.83,34.74 C146.81,35.25 150.78,36.61 154.75,36.99 C158.72,37.36 162.69,36.49 166.67,36.99 C170.64,37.48 174.61,39.41 178.58,39.95 C182.56,40.5 188.51,40.22 190.5,40.27" fill="none" stroke="#C64D3D" stroke-width="3.5" stroke-linejoin="round" stroke-linecap="round"/>
<path d="M47.5,110.5 C49.49,110.5 55.44,110.5 59.42,110.5 C63.39,110.5 67.36,110.5 71.33,110.5 C75.31,110.5 79.28,110.5 83.25,110.5 C87.22,110.5 91.19,110.5 95.17,110.5 C99.14,110.5 103.11,110.5 107.08,110.5 C111.06,110.5 115.03,110.5 119,110.5 C122.97,110.37 126.94,109.9 130.92,109.7 C134.89,109.5 138.86,109.56 142.83,109.3 C146.81,109.03 150.78,108.7 154.75,108.09 C158.72,107.49 162.69,106.89 166.67,105.69 C170.64,104.49 174.61,102.15 178.58,100.88 C182.56,99.61 188.51,98.54 190.5,98.07" fill="none" stroke="#9BBB59" stroke-width="3.5" stroke-linejoin="round" stroke-linecap="round"/>
<path d="M240.15,107.29 V108.9 M236.95,107.29 h6.4 M236.95,108.9 h6.4 M252.07,102.48 V108.9 M248.87,102.48 h6.4 M248.87,108.9 h6.4 M263.98,96.87 V108.09 M260.78,96.87 h6.4 M260.78,108.09 h6.4 M287.82,48.77 V68.01 M284.62,48.77 h6.4 M284.62,68.01 h6.4 M299.73,47.97 V55.99 M296.53,47.97 h6.4 M296.53,55.99 h6.4 M311.65,45.56 V55.19 M308.45,45.56 h6.4 M308.45,55.19 h6.4 M323.57,36.75 V51.18 M320.37,36.75 h6.4 M320.37,51.18 h6.4 M335.48,42.36 V45.56 M332.28,42.36 h6.4 M332.28,45.56 h6.4 M347.4,43.16 V46.37 M344.2,43.16 h6.4 M344.2,46.37 h6.4" fill="none" stroke="#000" stroke-width="1.2"/>
<path d="M240.15,88.85 V101.68 M236.95,88.85 h6.4 M236.95,101.68 h6.4 M252.07,60.4 V69.21 M248.87,60.4 h6.4 M248.87,69.21 h6.4 M263.98,41.96 V51.58 M260.78,41.96 h6.4 M260.78,51.58 h6.4 M275.9,39.15 V42.36 M272.7,39.15 h6.4 M272.7,42.36 h6.4 M287.82,35.14 V39.95 M284.62,35.14 h6.4 M284.62,39.95 h6.4 M299.73,29.53 V42.36 M296.53,29.53 h6.4 M296.53,42.36 h6.4 M311.65,35.94 V40.75 M308.45,35.94 h6.4 M308.45,40.75 h6.4 M323.57,37.55 V40.75 M320.37,37.55 h6.4 M320.37,40.75 h6.4 M335.48,37.95 V40.35 M332.28,37.95 h6.4 M332.28,40.35 h6.4 M347.4,37.55 V40.75 M344.2,37.55 h6.4 M344.2,40.75 h6.4" fill="none" stroke="#000" stroke-width="1.2"/>
<path d="M204.4,110.5 C206.39,110.5 212.34,110.5 216.32,110.5 C220.29,110.5 224.26,110.5 228.23,110.5 C232.21,110.1 236.18,108.9 240.15,108.09 C244.12,107.29 248.09,106.63 252.07,105.69 C256.04,104.75 260.01,107.03 263.98,102.48 C267.96,97.94 271.93,85.78 275.9,78.43 C279.87,71.08 283.84,62.8 287.82,58.39 C291.79,53.98 295.76,53.31 299.73,51.98 C303.71,50.64 307.68,51.71 311.65,50.38 C315.62,49.04 319.59,45.03 323.57,43.96 C327.54,42.89 331.51,43.83 335.48,43.96 C339.46,44.1 345.41,44.63 347.4,44.76" fill="none" stroke="#000000" stroke-width="3.5" stroke-linejoin="round" stroke-linecap="round"/>
<path d="M204.4,110.5 C206.39,110.5 212.34,110.5 216.32,110.5 C220.29,110.5 224.26,110.5 228.23,110.5 C232.21,107.96 236.18,102.88 240.15,95.27 C244.12,87.65 248.09,72.89 252.07,64.81 C256.04,56.72 260.01,50.78 263.98,46.77 C267.96,42.76 271.93,42.29 275.9,40.75 C279.87,39.22 283.84,38.4 287.82,37.55 C291.79,36.69 295.76,35.49 299.73,35.62 C303.71,35.76 307.68,37.76 311.65,38.35 C315.62,38.94 319.59,38.88 323.57,39.15 C327.54,39.42 331.51,39.55 335.48,39.95 C339.46,40.35 345.41,41.29 347.4,41.56" fill="none" stroke="#C64D3D" stroke-width="3.5" stroke-linejoin="round" stroke-linecap="round"/>
<path d="M204.4,110.5 C206.39,110.5 212.34,110.5 216.32,110.5 C220.29,110.5 224.26,110.5 228.23,110.5 C232.21,107.96 236.18,102.88 240.15,95.27 C244.12,87.65 248.09,72.89 252.07,64.81 C256.04,56.72 260.01,50.78 263.98,46.77 C267.96,42.76 271.93,42.29 275.9,40.75 C279.87,39.22 283.84,38.35 287.82,37.55 C291.79,36.75 295.76,35.81 299.73,35.94 C303.71,36.08 307.68,37.82 311.65,38.35 C315.62,38.88 319.59,39.02 323.57,39.15 C327.54,39.29 331.51,39.15 335.48,39.15 C339.46,39.15 345.41,39.15 347.4,39.15" fill="none" stroke="#9BBB59" stroke-width="3.5" stroke-linejoin="round" stroke-linecap="round"/>
<path d="M481.17,108.09 V109.7 M477.97,108.09 h6.4 M477.97,109.7 h6.4 M493.08,104.89 V108.09 M489.88,104.89 h6.4 M489.88,108.09 h6.4 M505,97.27 V109.3 M501.8,97.27 h6.4 M501.8,109.3 h6.4" fill="none" stroke="#000" stroke-width="1.2"/>
<path d="M397.75,88.85 V100.08 M394.55,88.85 h6.4 M394.55,100.08 h6.4 M409.67,56.63 V64.97 M406.47,56.63 h6.4 M406.47,64.97 h6.4 M421.58,43.88 V49.65 M418.38,43.88 h6.4 M418.38,49.65 h6.4 M445.42,32.1 V35.78 M442.22,32.1 h6.4 M442.22,35.78 h6.4 M457.33,33.14 V34.74 M454.13,33.14 h6.4 M454.13,34.74 h6.4 M481.17,35.78 V38.19 M477.97,35.78 h6.4 M477.97,38.19 h6.4 M493.08,37.15 V38.75 M489.88,37.15 h6.4 M489.88,38.75 h6.4 M505,37.07 V40.27 M501.8,37.07 h6.4 M501.8,40.27 h6.4" fill="none" stroke="#000" stroke-width="1.2"/>
<path d="M362,110.5 C363.99,110.5 369.94,110.5 373.92,110.5 C377.89,110.5 381.86,110.5 385.83,110.5 C389.81,110.5 393.78,110.5 397.75,110.5 C401.72,110.5 405.69,110.5 409.67,110.5 C413.64,110.5 417.61,110.5 421.58,110.5 C425.56,110.5 429.53,110.5 433.5,110.5 C437.47,110.5 441.44,110.5 445.42,110.5 C449.39,110.5 453.36,110.5 457.33,110.5 C461.31,110.43 465.28,110.37 469.25,110.1 C473.22,109.83 477.19,109.5 481.17,108.9 C485.14,108.3 489.11,107.43 493.08,106.49 C497.06,105.56 503.01,103.82 505,103.28" fill="none" stroke="#000000" stroke-width="3.5" stroke-linejoin="round" stroke-linecap="round"/>
<path d="M362,110.5 C363.99,110.5 369.94,110.5 373.92,110.5 C377.89,110.5 381.86,110.5 385.83,110.5 C389.81,107.83 393.78,102.75 397.75,94.47 C401.72,86.18 405.69,68.75 409.67,60.8 C413.64,52.85 417.61,50.24 421.58,46.77 C425.56,43.29 429.53,42.09 433.5,39.95 C437.47,37.82 441.44,34.94 445.42,33.94 C449.39,32.94 453.36,33.54 457.33,33.94 C461.31,34.34 465.28,35.84 469.25,36.35 C473.22,36.85 477.19,36.72 481.17,36.99 C485.14,37.25 489.11,37.67 493.08,37.95 C497.06,38.23 503.01,38.55 505,38.67" fill="none" stroke="#C64D3D" stroke-width="3.5" stroke-linejoin="round" stroke-linecap="round"/>
<path d="M362,110.5 C363.99,110.5 369.94,110.5 373.92,110.5 C377.89,110.43 381.86,110.23 385.83,110.1 C389.81,109.97 393.78,109.83 397.75,109.7 C401.72,109.56 405.69,109.43 409.67,109.3 C413.64,109.16 417.61,108.96 421.58,108.9 C425.56,108.83 429.53,108.83 433.5,108.9 C437.47,108.96 441.44,109.16 445.42,109.3 C449.39,109.43 453.36,109.63 457.33,109.7 C461.31,109.77 465.28,109.7 469.25,109.7 C473.22,109.7 477.19,109.7 481.17,109.7 C485.14,109.7 489.11,109.7 493.08,109.7 C497.06,109.7 503.01,109.7 505,109.7" fill="none" stroke="#9BBB59" stroke-width="3.5" stroke-linejoin="round" stroke-linecap="round"/>
<path d="M626.35,107.29 V110.5 M623.15,107.29 h6.4 M638.27,102.08 V110.5 M635.07,102.08 h6.4 M650.18,97.67 V110.5 M646.98,97.67 h6.4 M662.1,91.26 V110.5 M658.9,91.26 h6.4" fill="none" stroke="#000" stroke-width="1.2"/>
<path d="M554.85,91.26 V99.28 M551.65,91.26 h6.4 M551.65,99.28 h6.4 M566.77,54.22 V62.56 M563.57,54.22 h6.4 M563.57,62.56 h6.4 M578.68,44.76 V48.77 M575.48,44.76 h6.4 M575.48,48.77 h6.4 M602.52,27.69 V35.7 M599.32,27.69 h6.4 M599.32,35.7 h6.4 M614.43,33.54 V36.75 M611.23,33.54 h6.4 M611.23,36.75 h6.4 M638.27,34.82 V36.43 M635.07,34.82 h6.4 M635.07,36.43 h6.4 M650.18,34.82 V36.43 M646.98,34.82 h6.4 M646.98,36.43 h6.4 M662.1,34.02 V37.23 M658.9,34.02 h6.4 M658.9,37.23 h6.4" fill="none" stroke="#000" stroke-width="1.2"/>
<path d="M519.1,110.5 C521.09,110.5 527.04,110.5 531.02,110.5 C534.99,110.5 538.96,110.5 542.93,110.5 C546.91,110.5 550.88,110.5 554.85,110.5 C558.82,110.5 562.79,110.5 566.77,110.5 C570.74,110.5 574.71,110.5 578.68,110.5 C582.66,110.5 586.63,110.5 590.6,110.5 C594.57,110.5 598.54,110.5 602.52,110.5 C606.49,110.43 610.46,110.37 614.43,110.1 C618.41,109.83 622.38,109.36 626.35,108.9 C630.32,108.43 634.29,107.83 638.27,107.29 C642.24,106.76 646.21,106.49 650.18,105.69 C654.16,104.89 660.11,103.02 662.1,102.48" fill="none" stroke="#000000" stroke-width="3.5" stroke-linejoin="round" stroke-linecap="round"/>
<path d="M519.1,110.5 C521.09,110.5 527.04,110.5 531.02,110.5 C534.99,110.5 538.96,110.5 542.93,110.5 C546.91,107.96 550.88,103.95 554.85,95.27 C558.82,86.58 562.79,66.48 566.77,58.39 C570.74,50.31 574.71,49.84 578.68,46.77 C582.66,43.69 586.63,42.47 590.6,39.95 C594.57,37.44 598.54,32.5 602.52,31.7 C606.49,30.89 610.46,34.57 614.43,35.14 C618.41,35.72 622.38,35.06 626.35,35.14 C630.32,35.22 634.29,35.54 638.27,35.62 C642.24,35.7 646.21,35.62 650.18,35.62 C654.16,35.62 660.11,35.62 662.1,35.62" fill="none" stroke="#C64D3D" stroke-width="3.5" stroke-linejoin="round" stroke-linecap="round"/>
<path d="M519.1,110.5 C521.09,110.5 527.04,110.5 531.02,110.5 C534.99,110.43 538.96,110.23 542.93,110.1 C546.91,109.97 550.88,109.83 554.85,109.7 C558.82,109.56 562.79,109.43 566.77,109.3 C570.74,109.16 574.71,108.9 578.68,108.9 C582.66,108.9 586.63,109.16 590.6,109.3 C594.57,109.43 598.54,109.56 602.52,109.7 C606.49,109.83 610.46,110.03 614.43,110.1 C618.41,110.17 622.38,110.1 626.35,110.1 C630.32,110.1 634.29,110.1 638.27,110.1 C642.24,110.1 646.21,110.1 650.18,110.1 C654.16,110.1 660.11,110.1 662.1,110.1" fill="none" stroke="#9BBB59" stroke-width="3.5" stroke-linejoin="round" stroke-linecap="round"/>
<path d="M130.92,259.86 V264.7 M127.72,259.86 h6.4 M142.83,258.24 V264.7 M139.63,258.24 h6.4 M154.75,255.01 V264.7 M151.55,255.01 h6.4 M166.67,250.97 V263.89 M163.47,250.97 h6.4 M163.47,263.89 h6.4 M178.58,246.94 V263.08 M175.38,246.94 h6.4 M175.38,263.08 h6.4 M190.5,238.86 V264.7 M187.3,238.86 h6.4" fill="none" stroke="#000" stroke-width="1.2"/>
<path d="M83.25,240.47 V253.39 M80.05,240.47 h6.4 M80.05,253.39 h6.4 M95.17,206.56 V221.09 M91.97,206.56 h6.4 M91.97,221.09 h6.4 M107.08,199.29 V202.52 M103.88,199.29 h6.4 M103.88,202.52 h6.4 M130.92,185.32 V188.55 M127.72,185.32 h6.4 M127.72,188.55 h6.4 M142.83,186.86 V188.47 M139.63,186.86 h6.4 M139.63,188.47 h6.4 M166.67,188.47 V190.09 M163.47,188.47 h6.4 M163.47,190.09 h6.4 M178.58,189.6 V191.22 M175.38,189.6 h6.4 M175.38,191.22 h6.4 M190.5,190.01 V193.24 M187.3,190.01 h6.4 M187.3,193.24 h6.4" fill="none" stroke="#000" stroke-width="1.2"/>
<path d="M47.5,264.7 C49.49,264.7 55.44,264.7 59.42,264.7 C63.39,264.7 67.36,264.7 71.33,264.7 C75.31,264.7 79.28,264.7 83.25,264.7 C87.22,264.7 91.19,264.7 95.17,264.7 C99.14,264.7 103.11,264.7 107.08,264.7 C111.06,264.57 115.03,264.3 119,263.89 C122.97,263.49 126.94,262.68 130.92,262.28 C134.89,261.87 138.86,261.87 142.83,261.47 C146.81,261.07 150.78,260.53 154.75,259.86 C158.72,259.18 162.69,258.24 166.67,257.43 C170.64,256.62 174.61,255.95 178.58,255.01 C182.56,254.07 188.51,252.32 190.5,251.78" fill="none" stroke="#000000" stroke-width="3.5" stroke-linejoin="round" stroke-linecap="round"/>
<path d="M47.5,264.7 C49.49,264.7 55.44,264.7 59.42,264.7 C63.39,264.57 67.36,264.7 71.33,263.89 C75.31,260.93 79.28,255.28 83.25,246.94 C87.22,238.59 91.19,221.5 95.17,213.83 C99.14,206.16 103.11,204.41 107.08,200.91 C111.06,197.41 115.03,195.16 119,192.83 C122.97,190.5 126.94,187.8 130.92,186.94 C134.89,186.08 138.86,187.35 142.83,187.66 C146.81,187.97 150.78,188.53 154.75,188.8 C158.72,189.06 162.69,189.01 166.67,189.28 C170.64,189.55 174.61,190.02 178.58,190.41 C182.56,190.8 188.51,191.42 190.5,191.62" fill="none" stroke="#C64D3D" stroke-width="3.5" stroke-linejoin="round" stroke-linecap="round"/>
<path d="M47.5,264.7 C49.49,264.7 55.44,264.7 59.42,264.7 C63.39,264.7 67.36,264.7 71.33,264.7 C75.31,264.7 79.28,264.7 83.25,264.7 C87.22,264.7 91.19,264.7 95.17,264.7 C99.14,264.7 103.11,264.7 107.08,264.7 C111.06,264.7 115.03,264.7 119,264.7 C122.97,264.63 126.94,264.43 130.92,264.3 C134.89,264.16 138.86,264.09 142.83,263.89 C146.81,263.69 150.78,263.35 154.75,263.08 C158.72,262.82 162.69,262.68 166.67,262.28 C170.64,261.87 174.61,261.47 178.58,260.66 C182.56,259.85 188.51,257.97 190.5,257.43" fill="none" stroke="#9BBB59" stroke-width="3.5" stroke-linejoin="round" stroke-linecap="round"/>
<path d="M240.15,259.05 V264.7 M236.95,259.05 h6.4 M252.07,262.28 V264.7 M248.87,262.28 h6.4 M263.98,263.49 V264.7 M260.78,263.49 h6.4 M299.73,263.08 V264.7 M296.53,263.08 h6.4 M311.65,261.47 V264.7 M308.45,261.47 h6.4 M323.57,257.43 V263.89 M320.37,257.43 h6.4 M320.37,263.89 h6.4 M335.48,243.7 V264.7 M332.28,243.7 h6.4 M347.4,239.67 V259.05 M344.2,239.67 h6.4 M344.2,259.05 h6.4" fill="none" stroke="#000" stroke-width="1.2"/>
<path d="M240.15,243.7 V259.86 M236.95,243.7 h6.4 M236.95,259.86 h6.4 M252.07,202.93 V224.73 M248.87,202.93 h6.4 M248.87,224.73 h6.4 M263.98,196.06 V205.75 M260.78,196.06 h6.4 M260.78,205.75 h6.4 M287.82,182.98 V188.63 M284.62,182.98 h6.4 M284.62,188.63 h6.4 M299.73,187.99 V189.6 M296.53,187.99 h6.4 M296.53,189.6 h6.4 M323.57,188.47 V190.09 M320.37,188.47 h6.4 M320.37,190.09 h6.4 M335.48,187.99 V192.03 M332.28,187.99 h6.4 M332.28,192.03 h6.4 M347.4,187.99 V192.83 M344.2,187.99 h6.4 M344.2,192.83 h6.4" fill="none" stroke="#000" stroke-width="1.2"/>
<path d="M240.15,261.07 V264.3 M236.95,261.07 h6.4 M236.95,264.3 h6.4 M252.07,253.8 V261.87 M248.87,253.8 h6.4 M248.87,261.87 h6.4 M263.98,247.34 V258.64 M260.78,247.34 h6.4 M260.78,258.64 h6.4 M287.82,230.46 V257.92 M284.62,230.46 h6.4 M284.62,257.92 h6.4 M299.73,225.78 V255.66 M296.53,225.78 h6.4 M296.53,255.66 h6.4 M311.65,221.9 V252.59 M308.45,221.9 h6.4 M308.45,252.59 h6.4 M323.57,219.16 V249.84 M320.37,219.16 h6.4 M320.37,249.84 h6.4 M335.48,217.22 V244.67 M332.28,217.22 h6.4 M332.28,244.67 h6.4 M347.4,216.25 V240.47 M344.2,216.25 h6.4 M344.2,240.47 h6.4" fill="none" stroke="#000" stroke-width="1.2"/>
<path d="M204.4,264.7 C206.39,264.7 212.34,264.7 216.32,264.7 C220.29,264.7 224.26,264.7 228.23,264.7 C232.21,264.43 236.18,263.22 240.15,263.08 C244.12,262.95 248.09,263.69 252.07,263.89 C256.04,264.09 260.01,264.23 263.98,264.3 C267.96,264.36 271.93,264.3 275.9,264.3 C279.87,264.3 283.84,264.36 287.82,264.3 C291.79,264.23 295.76,264.09 299.73,263.89 C303.71,263.69 307.68,263.62 311.65,263.08 C315.62,262.55 319.59,261.87 323.57,260.66 C327.54,259.45 331.51,257.7 335.48,255.82 C339.46,253.93 345.41,250.43 347.4,249.36" fill="none" stroke="#000000" stroke-width="3.5" stroke-linejoin="round" stroke-linecap="round"/>
<path d="M204.4,264.7 C206.39,264.7 212.34,264.7 216.32,264.7 C220.29,264.7 224.26,264.7 228.23,264.7 C232.21,262.55 236.18,260.26 240.15,251.78 C244.12,243.3 248.09,222.31 252.07,213.83 C256.04,205.35 260.01,204.41 263.98,200.91 C267.96,197.41 271.93,195.35 275.9,192.83 C279.87,190.32 283.84,186.48 287.82,185.81 C291.79,185.13 295.76,188.22 299.73,188.8 C303.71,189.37 307.68,189.2 311.65,189.28 C315.62,189.36 319.59,189.16 323.57,189.28 C327.54,189.4 331.51,189.82 335.48,190.01 C339.46,190.19 345.41,190.34 347.4,190.41" fill="none" stroke="#C64D3D" stroke-width="3.5" stroke-linejoin="round" stroke-linecap="round"/>
<path d="M204.4,264.7 C206.39,264.7 212.34,264.7 216.32,264.7 C220.29,264.7 224.26,264.7 228.23,264.7 C232.21,264.36 236.18,263.83 240.15,262.68 C244.12,261.54 248.09,259.45 252.07,257.84 C256.04,256.22 260.01,254.54 263.98,252.99 C267.96,251.44 271.93,250.02 275.9,248.55 C279.87,247.08 283.84,245.49 287.82,244.19 C291.79,242.88 295.76,241.87 299.73,240.72 C303.71,239.56 307.68,238.28 311.65,237.25 C315.62,236.21 319.59,235.55 323.57,234.5 C327.54,233.45 331.51,231.97 335.48,230.95 C339.46,229.92 345.41,228.79 347.4,228.36" fill="none" stroke="#9BBB59" stroke-width="3.5" stroke-linejoin="round" stroke-linecap="round"/>
<path d="M469.25,262.28 V263.89 M466.05,262.28 h6.4 M466.05,263.89 h6.4 M481.17,253.39 V264.7 M477.97,253.39 h6.4 M493.08,250.16 V264.7 M489.88,250.16 h6.4 M505,244.51 V263.89 M501.8,244.51 h6.4 M501.8,263.89 h6.4" fill="none" stroke="#000" stroke-width="1.2"/>
<path d="M397.75,241.69 V255.41 M394.55,241.69 h6.4 M394.55,255.41 h6.4 M409.67,208.98 V223.52 M406.47,208.98 h6.4 M406.47,223.52 h6.4 M421.58,198.08 V203.73 M418.38,198.08 h6.4 M418.38,203.73 h6.4 M445.42,185.32 V188.55 M442.22,185.32 h6.4 M442.22,188.55 h6.4 M457.33,186.13 V187.75 M454.13,186.13 h6.4 M454.13,187.75 h6.4 M481.17,189.2 V190.81 M477.97,189.2 h6.4 M477.97,190.81 h6.4 M493.08,189.6 V191.22 M489.88,189.6 h6.4 M489.88,191.22 h6.4 M505,189.28 V192.51 M501.8,189.28 h6.4 M501.8,192.51 h6.4" fill="none" stroke="#000" stroke-width="1.2"/>
<path d="M362,264.7 C363.99,264.7 369.94,264.7 373.92,264.7 C377.89,264.7 381.86,264.7 385.83,264.7 C389.81,264.7 393.78,264.7 397.75,264.7 C401.72,264.7 405.69,264.7 409.67,264.7 C413.64,264.7 417.61,264.7 421.58,264.7 C425.56,264.7 429.53,264.7 433.5,264.7 C437.47,264.7 441.44,264.7 445.42,264.7 C449.39,264.7 453.36,264.7 457.33,264.7 C461.31,264.43 465.28,263.89 469.25,263.08 C473.22,262.28 477.19,260.66 481.17,259.86 C485.14,259.05 489.11,259.18 493.08,258.24 C497.06,257.3 503.01,254.88 505,254.2" fill="none" stroke="#000000" stroke-width="3.5" stroke-linejoin="round" stroke-linecap="round"/>
<path d="M362,264.7 C363.99,264.7 369.94,264.7 373.92,264.7 C377.89,264.7 381.86,264.7 385.83,264.7 C389.81,262.01 393.78,256.62 397.75,248.55 C401.72,240.47 405.69,224.19 409.67,216.25 C413.64,208.31 417.61,204.81 421.58,200.91 C425.56,197 429.53,195.16 433.5,192.83 C437.47,190.5 441.44,187.92 445.42,186.94 C449.39,185.96 453.36,186.55 457.33,186.94 C461.31,187.33 465.28,188.77 469.25,189.28 C473.22,189.79 477.19,189.82 481.17,190.01 C485.14,190.19 489.11,190.26 493.08,190.41 C497.06,190.56 503.01,190.81 505,190.89" fill="none" stroke="#C64D3D" stroke-width="3.5" stroke-linejoin="round" stroke-linecap="round"/>
<path d="M362,264.7 C363.99,264.7 369.94,264.7 373.92,264.7 C377.89,264.7 381.86,264.7 385.83,264.7 C389.81,264.7 393.78,264.7 397.75,264.7 C401.72,264.7 405.69,264.7 409.67,264.7 C413.64,264.7 417.61,264.7 421.58,264.7 C425.56,264.7 429.53,264.7 433.5,264.7 C437.47,264.7 441.44,264.7 445.42,264.7 C449.39,264.7 453.36,264.7 457.33,264.7 C461.31,264.7 465.28,264.7 469.25,264.7 C473.22,264.7 477.19,264.7 481.17,264.7 C485.14,264.7 489.11,264.7 493.08,264.7 C497.06,264.7 503.01,264.7 505,264.7" fill="none" stroke="#9BBB59" stroke-width="3.5" stroke-linejoin="round" stroke-linecap="round"/>
<path d="M626.35,262.28 V263.89 M623.15,262.28 h6.4 M623.15,263.89 h6.4 M638.27,254.2 V264.7 M635.07,254.2 h6.4 M650.18,248.55 V264.7 M646.98,248.55 h6.4 M662.1,242.09 V263.08 M658.9,242.09 h6.4 M658.9,263.08 h6.4" fill="none" stroke="#000" stroke-width="1.2"/>
<path d="M554.85,243.3 V255.41 M551.65,243.3 h6.4 M551.65,255.41 h6.4 M566.77,208.18 V219.48 M563.57,208.18 h6.4 M563.57,219.48 h6.4 M578.68,199.29 V202.52 M575.48,199.29 h6.4 M575.48,202.52 h6.4 M602.52,183.14 V186.37 M599.32,183.14 h6.4 M599.32,186.37 h6.4 M614.43,187.99 V189.6 M611.23,187.99 h6.4 M611.23,189.6 h6.4 M638.27,187.99 V189.6 M635.07,187.99 h6.4 M635.07,189.6 h6.4 M650.18,187.5 V192.35 M646.98,187.5 h6.4 M646.98,192.35 h6.4 M662.1,187.1 V192.75 M658.9,187.1 h6.4 M658.9,192.75 h6.4" fill="none" stroke="#000" stroke-width="1.2"/>
<path d="M519.1,264.7 C521.09,264.7 527.04,264.7 531.02,264.7 C534.99,264.7 538.96,264.7 542.93,264.7 C546.91,264.7 550.88,264.7 554.85,264.7 C558.82,264.7 562.79,264.7 566.77,264.7 C570.74,264.7 574.71,264.7 578.68,264.7 C582.66,264.7 586.63,264.7 590.6,264.7 C594.57,264.7 598.54,264.7 602.52,264.7 C606.49,264.7 610.46,264.7 614.43,264.7 C618.41,264.43 622.38,263.62 626.35,263.08 C630.32,262.55 634.29,262.41 638.27,261.47 C642.24,260.53 646.21,258.91 650.18,257.43 C654.16,255.95 660.11,253.39 662.1,252.59" fill="none" stroke="#000000" stroke-width="3.5" stroke-linejoin="round" stroke-linecap="round"/>
<path d="M519.1,264.7 C521.09,264.7 527.04,264.7 531.02,264.7 C534.99,264.7 538.96,264.7 542.93,264.7 C546.91,262.14 550.88,257.84 554.85,249.36 C558.82,240.88 562.79,221.9 566.77,213.83 C570.74,205.75 574.71,204.41 578.68,200.91 C582.66,197.41 586.63,195.52 590.6,192.83 C594.57,190.14 598.54,185.43 602.52,184.76 C606.49,184.08 610.46,188.12 614.43,188.8 C618.41,189.47 622.38,188.8 626.35,188.8 C630.32,188.8 634.29,188.61 638.27,188.8 C642.24,188.98 646.21,189.74 650.18,189.93 C654.16,190.11 660.11,189.93 662.1,189.93" fill="none" stroke="#C64D3D" stroke-width="3.5" stroke-linejoin="round" stroke-linecap="round"/>
<path d="M519.1,264.7 C521.09,264.7 527.04,264.7 531.02,264.7 C534.99,264.7 538.96,264.7 542.93,264.7 C546.91,264.7 550.88,264.7 554.85,264.7 C558.82,264.7 562.79,264.7 566.77,264.7 C570.74,264.7 574.71,264.7 578.68,264.7 C582.66,264.7 586.63,264.7 590.6,264.7 C594.57,264.7 598.54,264.7 602.52,264.7 C606.49,264.7 610.46,264.7 614.43,264.7 C618.41,264.7 622.38,264.7 626.35,264.7 C630.32,264.63 634.29,264.43 638.27,264.3 C642.24,264.16 646.21,264.09 650.18,263.89 C654.16,263.69 660.11,263.22 662.1,263.08" fill="none" stroke="#9BBB59" stroke-width="3.5" stroke-linejoin="round" stroke-linecap="round"/>
<path d="M154.75,416.49 V418.1 M151.55,416.49 h6.4 M151.55,418.1 h6.4 M166.67,414.07 V418.9 M163.47,414.07 h6.4 M178.58,406.03 V418.9 M175.38,406.03 h6.4 M190.5,400.4 V418.9 M187.3,400.4 h6.4" fill="none" stroke="#000" stroke-width="1.2"/>
<path d="M83.25,392.36 V407.64 M80.05,392.36 h6.4 M80.05,407.64 h6.4 M95.17,360.6 V374.27 M91.97,360.6 h6.4 M91.97,374.27 h6.4 M107.08,350.55 V358.59 M103.88,350.55 h6.4 M103.88,358.59 h6.4 M130.92,339.45 V341.06 M127.72,339.45 h6.4 M127.72,341.06 h6.4 M142.83,340.09 V341.7 M139.63,340.09 h6.4 M139.63,341.7 h6.4 M166.67,341.7 V343.31 M163.47,341.7 h6.4 M163.47,343.31 h6.4 M178.58,342.5 V344.11 M175.38,342.5 h6.4 M175.38,344.11 h6.4 M190.5,342.5 V344.11 M187.3,342.5 h6.4 M187.3,344.11 h6.4" fill="none" stroke="#000" stroke-width="1.2"/>
<path d="M47.5,418.9 C49.49,418.9 55.44,418.9 59.42,418.9 C63.39,418.9 67.36,418.9 71.33,418.9 C75.31,418.9 79.28,418.9 83.25,418.9 C87.22,418.9 91.19,418.9 95.17,418.9 C99.14,418.9 103.11,418.9 107.08,418.9 C111.06,418.9 115.03,418.9 119,418.9 C122.97,418.9 126.94,418.9 130.92,418.9 C134.89,418.77 138.86,418.36 142.83,418.1 C146.81,417.83 150.78,417.56 154.75,417.29 C158.72,417.02 162.69,417.02 166.67,416.49 C170.64,415.95 174.61,415.01 178.58,414.07 C182.56,413.14 188.51,411.39 190.5,410.86" fill="none" stroke="#000000" stroke-width="3.5" stroke-linejoin="round" stroke-linecap="round"/>
<path d="M47.5,418.9 C49.49,418.9 55.44,418.9 59.42,418.9 C63.39,418.77 67.36,418.9 71.33,418.1 C75.31,414.95 79.28,408.45 83.25,400 C87.22,391.56 91.19,375.01 95.17,367.43 C99.14,359.86 103.11,358.05 107.08,354.57 C111.06,351.08 115.03,348.91 119,346.52 C122.97,344.14 126.94,341.19 130.92,340.25 C134.89,339.31 138.86,340.59 142.83,340.9 C146.81,341.2 150.78,341.83 154.75,342.1 C158.72,342.37 162.69,342.3 166.67,342.5 C170.64,342.71 174.61,343.17 178.58,343.31 C182.56,343.44 188.51,343.31 190.5,343.31" fill="none" stroke="#C64D3D" stroke-width="3.5" stroke-linejoin="round" stroke-linecap="round"/>
<path d="M47.5,418.9 C49.49,418.9 55.44,418.9 59.42,418.9 C63.39,418.9 67.36,418.9 71.33,418.9 C75.31,418.9 79.28,418.9 83.25,418.9 C87.22,418.9 91.19,418.9 95.17,418.9 C99.14,418.9 103.11,418.9 107.08,418.9 C111.06,418.9 115.03,418.9 119,418.9 C122.97,418.9 126.94,418.9 130.92,418.9 C134.89,418.9 138.86,418.9 142.83,418.9 C146.81,418.9 150.78,418.9 154.75,418.9 C158.72,418.9 162.69,418.9 166.67,418.9 C170.64,418.9 174.61,418.9 178.58,418.9 C182.56,418.9 188.51,418.9 190.5,418.9" fill="none" stroke="#9BBB59" stroke-width="3.5" stroke-linejoin="round" stroke-linecap="round"/>
<path d="M287.82,410.86 V416.49 M284.62,410.86 h6.4 M284.62,416.49 h6.4 M299.73,400.81 V412.06 M296.53,400.81 h6.4 M296.53,412.06 h6.4 M311.65,383.52 V407.64 M308.45,383.52 h6.4 M308.45,407.64 h6.4 M323.57,348.94 V360.2 M320.37,348.94 h6.4 M320.37,360.2 h6.4 M335.48,345.72 V348.94 M332.28,345.72 h6.4 M332.28,348.94 h6.4 M347.4,340.09 V343.31 M344.2,340.09 h6.4 M344.2,343.31 h6.4" fill="none" stroke="#000" stroke-width="1.2"/>
<path d="M240.15,405.63 V409.65 M236.95,405.63 h6.4 M236.95,409.65 h6.4 M252.07,367.43 V386.73 M248.87,367.43 h6.4 M248.87,386.73 h6.4 M263.98,351.75 V362.21 M260.78,351.75 h6.4 M260.78,362.21 h6.4 M275.9,349.74 V352.96 M272.7,349.74 h6.4 M272.7,352.96 h6.4 M287.82,346.12 V353.36 M284.62,346.12 h6.4 M284.62,353.36 h6.4 M299.73,344.92 V352.15 M296.53,344.92 h6.4 M296.53,352.15 h6.4 M311.65,343.71 V350.95 M308.45,343.71 h6.4 M308.45,350.95 h6.4 M323.57,344.11 V350.55 M320.37,344.11 h6.4 M320.37,350.55 h6.4 M335.48,344.11 V350.55 M332.28,344.11 h6.4 M332.28,350.55 h6.4 M347.4,344.92 V349.74 M344.2,344.92 h6.4 M344.2,349.74 h6.4" fill="none" stroke="#000" stroke-width="1.2"/>
<path d="M204.4,418.9 C206.39,418.9 212.34,418.9 216.32,418.9 C220.29,418.9 224.26,418.9 228.23,418.9 C232.21,418.9 236.18,418.9 240.15,418.9 C244.12,418.9 248.09,418.9 252.07,418.9 C256.04,418.9 260.01,418.9 263.98,418.9 C267.96,418.63 271.93,418.16 275.9,417.29 C279.87,416.42 283.84,415.48 287.82,413.67 C291.79,411.86 295.76,409.45 299.73,406.44 C303.71,403.42 307.68,404.22 311.65,395.58 C315.62,386.93 319.59,362.61 323.57,354.57 C327.54,346.52 331.51,349.47 335.48,347.33 C339.46,345.18 345.41,342.64 347.4,341.7" fill="none" stroke="#000000" stroke-width="3.5" stroke-linejoin="round" stroke-linecap="round"/>
<path d="M204.4,418.9 C206.39,418.9 212.34,418.9 216.32,418.9 C220.29,418.9 224.26,418.9 228.23,418.9 C232.21,416.89 236.18,415.01 240.15,406.84 C244.12,398.66 248.09,378.29 252.07,369.85 C256.04,361.4 260.01,359.79 263.98,356.17 C267.96,352.56 271.93,350.95 275.9,348.13 C279.87,345.32 283.84,340.49 287.82,339.29 C291.79,338.08 295.76,340.74 299.73,340.9 C303.71,341.06 307.68,340.44 311.65,340.25 C315.62,340.06 319.59,339.85 323.57,339.77 C327.54,339.69 331.51,339.77 335.48,339.77 C339.46,339.77 345.41,339.77 347.4,339.77" fill="none" stroke="#C64D3D" stroke-width="3.5" stroke-linejoin="round" stroke-linecap="round"/>
<path d="M204.4,418.9 C206.39,418.9 212.34,418.9 216.32,418.9 C220.29,418.9 224.26,418.9 228.23,418.9 C232.21,417.02 236.18,414.61 240.15,407.64 C244.12,400.67 248.09,385.53 252.07,377.08 C256.04,368.64 260.01,361.27 263.98,356.98 C267.96,352.69 271.93,352.56 275.9,351.35 C279.87,350.14 283.84,350.21 287.82,349.74 C291.79,349.27 295.76,348.94 299.73,348.54 C303.71,348.13 307.68,347.53 311.65,347.33 C315.62,347.13 319.59,347.33 323.57,347.33 C327.54,347.33 331.51,347.33 335.48,347.33 C339.46,347.33 345.41,347.33 347.4,347.33" fill="none" stroke="#9BBB59" stroke-width="3.5" stroke-linejoin="round" stroke-linecap="round"/>
<path d="M469.25,415.68 V417.29 M466.05,415.68 h6.4 M466.05,417.29 h6.4 M481.17,410.05 V418.9 M477.97,410.05 h6.4 M493.08,405.23 V418.9 M489.88,405.23 h6.4 M505,399.6 V418.9 M501.8,399.6 h6.4" fill="none" stroke="#000" stroke-width="1.2"/>
<path d="M397.75,397.19 V411.66 M394.55,397.19 h6.4 M394.55,411.66 h6.4 M409.67,354.97 V378.29 M406.47,354.97 h6.4 M406.47,378.29 h6.4 M421.58,349.74 V362.61 M418.38,349.74 h6.4 M418.38,362.61 h6.4 M445.42,336.88 V341.7 M442.22,336.88 h6.4 M442.22,341.7 h6.4 M457.33,340.09 V341.7 M454.13,340.09 h6.4 M454.13,341.7 h6.4 M481.17,340.9 V342.5 M477.97,340.9 h6.4 M477.97,342.5 h6.4 M493.08,340.9 V343.31 M489.88,340.9 h6.4 M489.88,343.31 h6.4 M505,340.09 V343.31 M501.8,340.09 h6.4 M501.8,343.31 h6.4" fill="none" stroke="#000" stroke-width="1.2"/>
<path d="M445.42,414.88 V416.49 M442.22,414.88 h6.4 M442.22,416.49 h6.4 M457.33,414.88 V416.49 M454.13,414.88 h6.4 M454.13,416.49 h6.4 M469.25,413.27 V416.49 M466.05,413.27 h6.4 M466.05,416.49 h6.4 M481.17,412.47 V415.68 M477.97,412.47 h6.4 M477.97,415.68 h6.4 M493.08,410.05 V414.88 M489.88,410.05 h6.4 M489.88,414.88 h6.4 M505,406.84 V414.88 M501.8,406.84 h6.4 M501.8,414.88 h6.4" fill="none" stroke="#000" stroke-width="1.2"/>
<path d="M362,418.9 C363.99,418.9 369.94,418.9 373.92,418.9 C377.89,418.9 381.86,418.9 385.83,418.9 C389.81,418.77 393.78,418.36 397.75,418.1 C401.72,417.83 405.69,417.56 409.67,417.29 C413.64,417.02 417.61,416.49 421.58,416.49 C425.56,416.49 429.53,417.16 433.5,417.29 C437.47,417.43 441.44,417.29 445.42,417.29 C449.39,417.29 453.36,417.43 457.33,417.29 C461.31,417.16 465.28,416.89 469.25,416.49 C473.22,416.09 477.19,415.55 481.17,414.88 C485.14,414.21 489.11,413.4 493.08,412.47 C497.06,411.53 503.01,409.79 505,409.25" fill="none" stroke="#000000" stroke-width="3.5" stroke-linejoin="round" stroke-linecap="round"/>
<path d="M362,418.9 C363.99,418.9 369.94,418.9 373.92,418.9 C377.89,418.9 381.86,418.9 385.83,418.9 C389.81,416.49 393.78,413.14 397.75,404.42 C401.72,395.71 405.69,374.67 409.67,366.63 C413.64,358.59 417.61,359.53 421.58,356.17 C425.56,352.82 429.53,349.34 433.5,346.52 C437.47,343.71 441.44,340.23 445.42,339.29 C449.39,338.35 453.36,340.49 457.33,340.9 C461.31,341.3 465.28,341.57 469.25,341.7 C473.22,341.83 477.19,341.63 481.17,341.7 C485.14,341.77 489.11,342.1 493.08,342.1 C497.06,342.1 503.01,341.77 505,341.7" fill="none" stroke="#C64D3D" stroke-width="3.5" stroke-linejoin="round" stroke-linecap="round"/>
<path d="M362,418.9 C363.99,418.9 369.94,418.9 373.92,418.9 C377.89,418.9 381.86,418.9 385.83,418.9 C389.81,418.5 393.78,417.16 397.75,416.49 C401.72,415.82 405.69,415.28 409.67,414.88 C413.64,414.48 417.61,414.07 421.58,414.07 C425.56,414.07 429.53,414.61 433.5,414.88 C437.47,415.15 441.44,415.55 445.42,415.68 C449.39,415.82 453.36,415.82 457.33,415.68 C461.31,415.55 465.28,415.15 469.25,414.88 C473.22,414.61 477.19,414.48 481.17,414.07 C485.14,413.67 489.11,413 493.08,412.47 C497.06,411.93 503.01,411.13 505,410.86" fill="none" stroke="#9BBB59" stroke-width="3.5" stroke-linejoin="round" stroke-linecap="round"/>
<text transform="translate(12.3,63) rotate(-90)" font-size="12" text-anchor="middle">Growth (OD<tspan font-size="9" dy="1.8">600</tspan><tspan dy="-1.8">)</tspan></text>
<text transform="translate(12.3,216.85) rotate(-90)" font-size="12" text-anchor="middle">Growth (OD<tspan font-size="9" dy="1.8">600</tspan><tspan dy="-1.8">)</tspan></text>
<text transform="translate(12.3,371.25) rotate(-90)" font-size="12" text-anchor="middle">Growth (OD<tspan font-size="9" dy="1.8">600</tspan><tspan dy="-1.8">)</tspan></text>
<line x1="551.4" y1="340.4" x2="573.2" y2="340.4" stroke="#000000" stroke-width="3.6"/>
<text x="581.5" y="344.9" font-size="12" textLength="18.7" lengthAdjust="spacingAndGlyphs">MH</text>
<line x1="551.4" y1="367.2" x2="573.2" y2="367.2" stroke="#C64D3D" stroke-width="3.6"/>
<text x="581.5" y="371.5" font-size="12" textLength="49.3" lengthAdjust="spacingAndGlyphs">MH+ARA</text>
<line x1="551.4" y1="394.4" x2="573.2" y2="394.4" stroke="#9BBB59" stroke-width="3.6"/>
<text x="581.5" y="399" font-size="12" textLength="51.3" lengthAdjust="spacingAndGlyphs">MH+IPTG</text>
<text x="84.2" y="495.4" font-size="14.4" font-weight="bold" fill="#000">B</text>
<text x="240.2" y="494.4" font-size="11.4" text-anchor="middle" textLength="18.3" lengthAdjust="spacingAndGlyphs">MH</text>
<text x="346.5" y="494.4" font-size="11.4" text-anchor="middle" textLength="54.3" lengthAdjust="spacingAndGlyphs">MH + ARA</text>
<text x="454.7" y="494.4" font-size="11.4" text-anchor="middle" textLength="58.3" lengthAdjust="spacingAndGlyphs">MH + IPTG</text>
<text x="178.9" y="512.95" font-size="13.4" text-anchor="end" textLength="73.2" lengthAdjust="spacingAndGlyphs">empty vector</text>
<text x="178.9" y="537.05" font-size="13.4" text-anchor="end" textLength="42.3" lengthAdjust="spacingAndGlyphs">LptH wt</text>
<text x="178.9" y="561.15" font-size="13.4" text-anchor="end" textLength="37" lengthAdjust="spacingAndGlyphs">β16del</text>
<text x="178.9" y="585.25" font-size="13.4" text-anchor="end" textLength="42.4" lengthAdjust="spacingAndGlyphs">β16mut</text>
<text x="178.9" y="609.35" font-size="13.4" text-anchor="end" textLength="36.7" lengthAdjust="spacingAndGlyphs">β13del</text>
<text x="178.9" y="633.45" font-size="13.4" text-anchor="end" textLength="42.4" lengthAdjust="spacingAndGlyphs">β13mut</text>
<text x="178.9" y="657.55" font-size="13.4" text-anchor="end" textLength="29.7" lengthAdjust="spacingAndGlyphs">β1del</text>
<text x="178.9" y="681.65" font-size="13.4" text-anchor="end" textLength="35.5" lengthAdjust="spacingAndGlyphs">β1mut</text>
<text x="178.9" y="705.75" font-size="13.4" text-anchor="end" textLength="30" lengthAdjust="spacingAndGlyphs">β2del</text>
<text x="178.9" y="729.85" font-size="13.4" text-anchor="end" textLength="37" lengthAdjust="spacingAndGlyphs">β15del</text>
<text x="178.9" y="753.95" font-size="13.4" text-anchor="end" textLength="42.4" lengthAdjust="spacingAndGlyphs">β15mut</text>
<rect x="186.4" y="500.4" width="103.6" height="18.5" fill="#3f3f3f"/>
<rect x="295.1" y="500.4" width="103.6" height="18.5" fill="#1c1c1c"/>
<rect x="404" y="500.4" width="103.6" height="18.5" fill="#252525"/>
<rect x="186.4" y="524.5" width="103.6" height="18.5" fill="#3e3e3e"/>
<rect x="295.1" y="524.5" width="103.6" height="18.5" fill="#1a1a1a"/>
<rect x="404" y="524.5" width="103.6" height="18.5" fill="#181818"/>
<rect x="186.4" y="548.6" width="103.6" height="18.5" fill="#363636"/>
<rect x="295.1" y="548.6" width="103.6" height="18.5" fill="#202020"/>
<rect x="404" y="548.6" width="103.6" height="18.5" fill="#3a3a3a"/>
<rect x="186.4" y="572.7" width="103.6" height="18.5" fill="#2f2f2f"/>
<rect x="295.1" y="572.7" width="103.6" height="18.5" fill="#141414"/>
<rect x="404" y="572.7" width="103.6" height="18.5" fill="#333333"/>
<rect x="186.4" y="596.8" width="103.6" height="18.5" fill="#383838"/>
<rect x="295.1" y="596.8" width="103.6" height="18.5" fill="#1c1c1c"/>
<rect x="404" y="596.8" width="103.6" height="18.5" fill="#2f2f2f"/>
<rect x="186.4" y="620.9" width="103.6" height="18.5" fill="#3e3e3e"/>
<rect x="295.1" y="620.9" width="103.6" height="18.5" fill="#1d1d1d"/>
<rect x="404" y="620.9" width="103.6" height="18.5" fill="#363636"/>
<rect x="186.4" y="645" width="103.6" height="18.5" fill="#3c3c3c"/>
<rect x="295.1" y="645" width="103.6" height="18.5" fill="#202020"/>
<rect x="404" y="645" width="103.6" height="18.5" fill="#2d2d2d"/>
<rect x="186.4" y="669.1" width="103.6" height="18.5" fill="#383838"/>
<rect x="295.1" y="669.1" width="103.6" height="18.5" fill="#1e1e1e"/>
<rect x="404" y="669.1" width="103.6" height="18.5" fill="#2b2b2b"/>
<rect x="186.4" y="693.2" width="103.6" height="18.5" fill="#3a3a3a"/>
<rect x="295.1" y="693.2" width="103.6" height="18.5" fill="#282828"/>
<rect x="404" y="693.2" width="103.6" height="18.5" fill="#2f2f2f"/>
<rect x="186.4" y="717.3" width="103.6" height="18.5" fill="#404040"/>
<rect x="295.1" y="717.3" width="103.6" height="18.5" fill="#1a1a1a"/>
<rect x="404" y="717.3" width="103.6" height="18.5" fill="#1a1a1a"/>
<rect x="186.4" y="741.4" width="103.6" height="18.5" fill="#3b3b3b"/>
<rect x="295.1" y="741.4" width="103.6" height="18.5" fill="#1c1c1c"/>
<rect x="404" y="741.4" width="103.6" height="18.5" fill="#2d2d2d"/>
<defs><filter id="bl" x="-50%" y="-50%" width="200%" height="200%"><feGaussianBlur stdDeviation="0.45"/></filter></defs>
<circle cx="302.7" cy="510.45" r="5.3" fill="#a6a6a6" opacity="1" filter="url(#bl)"/>
<circle cx="320.8" cy="510.45" r="5.3" fill="#a6a6a6" opacity="1" filter="url(#bl)"/>
<circle cx="337.9" cy="510.45" r="5.3" fill="#a6a6a6" opacity="1" filter="url(#bl)"/>
<circle cx="354.3" cy="510.45" r="5.3" fill="#a6a6a6" opacity="1" filter="url(#bl)"/>
<g filter="url(#bl)">
<circle cx="371.3" cy="510.45" r="4.6" fill="#a6a6a6"/>
<circle cx="375.19" cy="510.21" r="1.39" fill="#a6a6a6"/>
<circle cx="374.96" cy="512.69" r="1.22" fill="#a6a6a6"/>
<circle cx="372.67" cy="514.48" r="1.02" fill="#a6a6a6"/>
<circle cx="369.47" cy="513.8" r="1.05" fill="#a6a6a6"/>
<circle cx="367.04" cy="512.13" r="1.07" fill="#a6a6a6"/>
<circle cx="367.06" cy="509.36" r="1.57" fill="#a6a6a6"/>
<circle cx="369.32" cy="506.8" r="1.59" fill="#a6a6a6"/>
<circle cx="371.37" cy="505.84" r="1.17" fill="#a6a6a6"/>
<circle cx="373.93" cy="507.62" r="1.19" fill="#a6a6a6"/>
<circle cx="372.88" cy="508.85" r="0.99" fill="#2a2a2a" opacity="0.3"/>
<circle cx="371.99" cy="509.81" r="0.97" fill="#2a2a2a" opacity="0.3"/>
<circle cx="369.11" cy="508.25" r="0.8" fill="#2a2a2a" opacity="0.3"/>
<circle cx="372.2" cy="510.09" r="0.86" fill="#2a2a2a" opacity="0.3"/>
</g>
<g filter="url(#bl)">
<circle cx="391.1" cy="508.25" r="1.5" fill="#c8c8c8"/>
<circle cx="392.6" cy="509.45" r="1.2" fill="#c8c8c8"/>
<circle cx="394.3" cy="513.05" r="1.3" fill="#c8c8c8"/>
</g>
<circle cx="302.7" cy="534.55" r="5.3" fill="#a2a2a2" opacity="1" filter="url(#bl)"/>
<circle cx="320.8" cy="534.55" r="5.3" fill="#a2a2a2" opacity="1" filter="url(#bl)"/>
<circle cx="337.9" cy="534.55" r="5.3" fill="#a2a2a2" opacity="1" filter="url(#bl)"/>
<circle cx="354.3" cy="534.55" r="5.3" fill="#a2a2a2" opacity="1" filter="url(#bl)"/>
<g filter="url(#bl)">
<circle cx="371.3" cy="534.55" r="4.6" fill="#a2a2a2"/>
<circle cx="375.5" cy="534.68" r="1.18" fill="#a2a2a2"/>
<circle cx="374.4" cy="537.74" r="1.15" fill="#a2a2a2"/>
<circle cx="371.93" cy="538.78" r="1.53" fill="#a2a2a2"/>
<circle cx="369.01" cy="537.87" r="1.59" fill="#a2a2a2"/>
<circle cx="367.61" cy="536.48" r="1.45" fill="#a2a2a2"/>
<circle cx="367.17" cy="533.59" r="1.02" fill="#a2a2a2"/>
<circle cx="369.28" cy="530.51" r="1.34" fill="#a2a2a2"/>
<circle cx="372.52" cy="530.67" r="1.42" fill="#a2a2a2"/>
<circle cx="374.71" cy="531.88" r="1.27" fill="#a2a2a2"/>
<circle cx="373" cy="536.77" r="0.94" fill="#2a2a2a" opacity="0.3"/>
<circle cx="372.12" cy="532.35" r="1.05" fill="#2a2a2a" opacity="0.3"/>
<circle cx="372.04" cy="537.02" r="1.11" fill="#2a2a2a" opacity="0.3"/>
<circle cx="370.22" cy="533.98" r="1.03" fill="#2a2a2a" opacity="0.3"/>
</g>
<g filter="url(#bl)">
<circle cx="390.3" cy="532.95" r="1.2" fill="#c8c8c8"/>
<circle cx="392.5" cy="532.55" r="1.1" fill="#c8c8c8"/>
<circle cx="393.9" cy="534.35" r="1.2" fill="#c8c8c8"/>
<circle cx="392.3" cy="535.15" r="1" fill="#c8c8c8"/>
<circle cx="390.9" cy="537.55" r="1" fill="#c8c8c8"/>
<circle cx="392.9" cy="537.95" r="1" fill="#c8c8c8"/>
</g>
<circle cx="302.7" cy="558.65" r="5.3" fill="#b4b4b4" opacity="1" filter="url(#bl)"/>
<circle cx="320.8" cy="558.65" r="5.3" fill="#b4b4b4" opacity="1" filter="url(#bl)"/>
<circle cx="337.9" cy="558.65" r="5.3" fill="#b4b4b4" opacity="1" filter="url(#bl)"/>
<circle cx="354.3" cy="558.65" r="5.3" fill="#b4b4b4" opacity="1" filter="url(#bl)"/>
<g filter="url(#bl)">
<circle cx="371.3" cy="558.65" r="4.6" fill="#b4b4b4"/>
<circle cx="375.45" cy="557.95" r="1.1" fill="#b4b4b4"/>
<circle cx="374.52" cy="560.69" r="1.46" fill="#b4b4b4"/>
<circle cx="372.5" cy="562.46" r="1.23" fill="#b4b4b4"/>
<circle cx="368.97" cy="561.69" r="1.27" fill="#b4b4b4"/>
<circle cx="366.92" cy="560.16" r="1.49" fill="#b4b4b4"/>
<circle cx="367.72" cy="556.8" r="1.25" fill="#b4b4b4"/>
<circle cx="368.79" cy="554.76" r="1.57" fill="#b4b4b4"/>
<circle cx="371.51" cy="554.73" r="1.14" fill="#b4b4b4"/>
<circle cx="374.28" cy="555.64" r="1.35" fill="#b4b4b4"/>
<circle cx="370.11" cy="556.17" r="0.91" fill="#2a2a2a" opacity="0.3"/>
<circle cx="370.65" cy="558.98" r="1.18" fill="#2a2a2a" opacity="0.3"/>
<circle cx="372.25" cy="558.73" r="1.01" fill="#2a2a2a" opacity="0.3"/>
<circle cx="372.18" cy="556.42" r="1.15" fill="#2a2a2a" opacity="0.3"/>
</g>
<g filter="url(#bl)">
<circle cx="391.3" cy="556.65" r="1.3" fill="#c8c8c8"/>
<circle cx="393.7" cy="559.05" r="1.3" fill="#c8c8c8"/>
<circle cx="391.5" cy="560.25" r="1.2" fill="#c8c8c8"/>
<circle cx="394.1" cy="561.65" r="1.2" fill="#c8c8c8"/>
</g>
<circle cx="302.7" cy="582.75" r="5.3" fill="#606060" opacity="1" filter="url(#bl)"/>
<circle cx="320.8" cy="582.75" r="5.3" fill="#606060" opacity="1" filter="url(#bl)"/>
<circle cx="337.9" cy="582.75" r="5.3" fill="#606060" opacity="1" filter="url(#bl)"/>
<circle cx="354.3" cy="582.75" r="5.3" fill="#606060" opacity="1" filter="url(#bl)"/>
<g filter="url(#bl)">
<circle cx="371.3" cy="582.75" r="4.6" fill="#606060"/>
<circle cx="375.9" cy="583.2" r="1.48" fill="#606060"/>
<circle cx="374.58" cy="585.3" r="1.06" fill="#606060"/>
<circle cx="371.79" cy="586.53" r="1.04" fill="#606060"/>
<circle cx="369.7" cy="586.32" r="1.2" fill="#606060"/>
<circle cx="368.02" cy="584.57" r="1.09" fill="#606060"/>
<circle cx="367.28" cy="581.89" r="1.02" fill="#606060"/>
<circle cx="369.63" cy="578.72" r="1.09" fill="#606060"/>
<circle cx="371.66" cy="578.67" r="1.22" fill="#606060"/>
<circle cx="374.4" cy="579.36" r="1.6" fill="#606060"/>
<circle cx="371.13" cy="582.67" r="0.74" fill="#2a2a2a" opacity="0.3"/>
<circle cx="369.31" cy="581.96" r="0.83" fill="#2a2a2a" opacity="0.3"/>
<circle cx="372.94" cy="581.06" r="0.71" fill="#2a2a2a" opacity="0.3"/>
<circle cx="373.55" cy="582.89" r="0.77" fill="#2a2a2a" opacity="0.3"/>
</g>
<g filter="url(#bl)">
<circle cx="391.8" cy="581.15" r="1.5" fill="#a0a0a0"/>
<circle cx="394.1" cy="584.35" r="1.4" fill="#a0a0a0"/>
</g>
<circle cx="302.7" cy="606.85" r="5.3" fill="#a6a6a6" opacity="1" filter="url(#bl)"/>
<circle cx="320.8" cy="606.85" r="5.3" fill="#a6a6a6" opacity="1" filter="url(#bl)"/>
<circle cx="337.9" cy="606.85" r="5.3" fill="#a6a6a6" opacity="1" filter="url(#bl)"/>
<circle cx="354.3" cy="606.85" r="5.3" fill="#a6a6a6" opacity="1" filter="url(#bl)"/>
<g filter="url(#bl)">
<circle cx="371.3" cy="606.85" r="4.6" fill="#a6a6a6"/>
<circle cx="375.08" cy="606.91" r="1.32" fill="#a6a6a6"/>
<circle cx="374.29" cy="610.36" r="1.42" fill="#a6a6a6"/>
<circle cx="372.35" cy="610.83" r="1.1" fill="#a6a6a6"/>
<circle cx="368.82" cy="610.34" r="1.47" fill="#a6a6a6"/>
<circle cx="367.65" cy="608.43" r="1.49" fill="#a6a6a6"/>
<circle cx="367.3" cy="604.57" r="1.48" fill="#a6a6a6"/>
<circle cx="369.5" cy="602.74" r="1.14" fill="#a6a6a6"/>
<circle cx="372.04" cy="602.81" r="1.02" fill="#a6a6a6"/>
<circle cx="373.92" cy="603.79" r="1.16" fill="#a6a6a6"/>
<circle cx="372.26" cy="609.13" r="0.92" fill="#2a2a2a" opacity="0.3"/>
<circle cx="373.49" cy="609.29" r="1.18" fill="#2a2a2a" opacity="0.3"/>
<circle cx="370.62" cy="605.45" r="0.81" fill="#2a2a2a" opacity="0.3"/>
<circle cx="369.78" cy="605.37" r="1.01" fill="#2a2a2a" opacity="0.3"/>
</g>
<g filter="url(#bl)">
<circle cx="390.7" cy="606.25" r="1.3" fill="#c8c8c8"/>
<circle cx="392.9" cy="605.25" r="1.2" fill="#c8c8c8"/>
<circle cx="394.1" cy="607.65" r="1.3" fill="#c8c8c8"/>
</g>
<circle cx="302.2" cy="630.95" r="5.3" fill="#a8a8a8" opacity="1" filter="url(#bl)"/>
<circle cx="320.3" cy="630.95" r="5.3" fill="#a8a8a8" opacity="1" filter="url(#bl)"/>
<circle cx="338.7" cy="630.95" r="5.3" fill="#a8a8a8" opacity="1" filter="url(#bl)"/>
<circle cx="356.1" cy="630.95" r="5.3" fill="#a8a8a8" opacity="1" filter="url(#bl)"/>
<g filter="url(#bl)">
<circle cx="373.7" cy="630.95" r="4.6" fill="#a8a8a8"/>
<circle cx="378.25" cy="631.59" r="1.29" fill="#a8a8a8"/>
<circle cx="377.02" cy="634.06" r="1.05" fill="#a8a8a8"/>
<circle cx="374.25" cy="635.58" r="1.47" fill="#a8a8a8"/>
<circle cx="371.27" cy="634.41" r="1.11" fill="#a8a8a8"/>
<circle cx="369.74" cy="631.95" r="1.48" fill="#a8a8a8"/>
<circle cx="370.09" cy="628.91" r="1.24" fill="#a8a8a8"/>
<circle cx="372.09" cy="626.77" r="1.1" fill="#a8a8a8"/>
<circle cx="373.87" cy="627.05" r="1.54" fill="#a8a8a8"/>
<circle cx="376.94" cy="628.78" r="1.5" fill="#a8a8a8"/>
<circle cx="376.1" cy="631.74" r="0.88" fill="#2a2a2a" opacity="0.3"/>
<circle cx="373.94" cy="629.1" r="0.71" fill="#2a2a2a" opacity="0.3"/>
<circle cx="376.05" cy="631.7" r="0.96" fill="#2a2a2a" opacity="0.3"/>
<circle cx="375.87" cy="630.62" r="1.14" fill="#2a2a2a" opacity="0.3"/>
</g>
<g filter="url(#bl)">
<circle cx="390.9" cy="631.95" r="1.2" fill="#c8c8c8"/>
<circle cx="393.1" cy="630.35" r="1.3" fill="#c8c8c8"/>
<circle cx="394.3" cy="632.75" r="1.2" fill="#c8c8c8"/>
</g>
<circle cx="302.2" cy="655.05" r="5.3" fill="#a8a8a8" opacity="1" filter="url(#bl)"/>
<circle cx="320.3" cy="655.05" r="5.3" fill="#a8a8a8" opacity="1" filter="url(#bl)"/>
<circle cx="338.7" cy="655.05" r="5.3" fill="#a8a8a8" opacity="1" filter="url(#bl)"/>
<circle cx="356.1" cy="655.05" r="5.3" fill="#a8a8a8" opacity="1" filter="url(#bl)"/>
<g filter="url(#bl)">
<circle cx="373.7" cy="655.05" r="4.6" fill="#a8a8a8"/>
<circle cx="377.64" cy="655.5" r="1.15" fill="#a8a8a8"/>
<circle cx="376.93" cy="657.39" r="1.35" fill="#a8a8a8"/>
<circle cx="374.77" cy="659.08" r="1.08" fill="#a8a8a8"/>
<circle cx="371.16" cy="658.27" r="1.27" fill="#a8a8a8"/>
<circle cx="369.28" cy="656.51" r="1.25" fill="#a8a8a8"/>
<circle cx="369.96" cy="653.03" r="1.32" fill="#a8a8a8"/>
<circle cx="371.84" cy="651.77" r="1.26" fill="#a8a8a8"/>
<circle cx="373.94" cy="651.3" r="1.48" fill="#a8a8a8"/>
<circle cx="376.6" cy="651.98" r="1.44" fill="#a8a8a8"/>
<circle cx="373.98" cy="654.18" r="0.96" fill="#2a2a2a" opacity="0.3"/>
<circle cx="373.98" cy="656.47" r="0.75" fill="#2a2a2a" opacity="0.3"/>
<circle cx="374" cy="653.79" r="0.84" fill="#2a2a2a" opacity="0.3"/>
<circle cx="375.06" cy="655.09" r="0.98" fill="#2a2a2a" opacity="0.3"/>
</g>
<g filter="url(#bl)">
<circle cx="391.3" cy="655.25" r="1.4" fill="#c8c8c8"/>
<circle cx="394.9" cy="654.45" r="1.4" fill="#c8c8c8"/>
</g>
<circle cx="302.2" cy="679.15" r="5.3" fill="#aaaaaa" opacity="1" filter="url(#bl)"/>
<circle cx="320.3" cy="679.15" r="5.3" fill="#aaaaaa" opacity="1" filter="url(#bl)"/>
<circle cx="338.7" cy="679.15" r="5.3" fill="#aaaaaa" opacity="1" filter="url(#bl)"/>
<circle cx="356.1" cy="679.15" r="5.3" fill="#aaaaaa" opacity="1" filter="url(#bl)"/>
<g filter="url(#bl)">
<circle cx="373.7" cy="679.15" r="4.6" fill="#aaaaaa"/>
<circle cx="378.34" cy="679.57" r="1.27" fill="#aaaaaa"/>
<circle cx="376.85" cy="682.01" r="1.31" fill="#aaaaaa"/>
<circle cx="374.15" cy="683.33" r="1.32" fill="#aaaaaa"/>
<circle cx="371.39" cy="683.23" r="1.42" fill="#aaaaaa"/>
<circle cx="369.12" cy="680.16" r="1.16" fill="#aaaaaa"/>
<circle cx="369.32" cy="677.45" r="1.5" fill="#aaaaaa"/>
<circle cx="371.36" cy="676.07" r="1.27" fill="#aaaaaa"/>
<circle cx="373.8" cy="675.16" r="1.04" fill="#aaaaaa"/>
<circle cx="377.34" cy="676.45" r="1.54" fill="#aaaaaa"/>
<circle cx="371.97" cy="680.23" r="1.03" fill="#2a2a2a" opacity="0.3"/>
<circle cx="371.91" cy="681.06" r="1.18" fill="#2a2a2a" opacity="0.3"/>
<circle cx="372.3" cy="681.41" r="0.9" fill="#2a2a2a" opacity="0.3"/>
<circle cx="373.64" cy="681.6" r="1.12" fill="#2a2a2a" opacity="0.3"/>
</g>
<g filter="url(#bl)">
<circle cx="393.7" cy="676.95" r="1.1" fill="#c8c8c8"/>
<circle cx="392.7" cy="679.75" r="1.2" fill="#c8c8c8"/>
<circle cx="394.3" cy="681.75" r="1.2" fill="#c8c8c8"/>
</g>
<circle cx="302.2" cy="703.25" r="5.3" fill="#bcbcbc" opacity="1" filter="url(#bl)"/>
<circle cx="320.3" cy="703.25" r="5.3" fill="#bcbcbc" opacity="1" filter="url(#bl)"/>
<circle cx="338.7" cy="703.25" r="5.3" fill="#bcbcbc" opacity="1" filter="url(#bl)"/>
<circle cx="356.1" cy="703.25" r="5.3" fill="#bcbcbc" opacity="1" filter="url(#bl)"/>
<g filter="url(#bl)">
<circle cx="373.7" cy="703.25" r="4.6" fill="#bcbcbc"/>
<circle cx="377.85" cy="702.76" r="1.31" fill="#bcbcbc"/>
<circle cx="376.86" cy="705.61" r="1.19" fill="#bcbcbc"/>
<circle cx="374.07" cy="707" r="1.33" fill="#bcbcbc"/>
<circle cx="371.88" cy="706.55" r="1.2" fill="#bcbcbc"/>
<circle cx="369.64" cy="704.53" r="1.04" fill="#bcbcbc"/>
<circle cx="369.76" cy="701" r="1.58" fill="#bcbcbc"/>
<circle cx="371.23" cy="700.08" r="1.02" fill="#bcbcbc"/>
<circle cx="374.78" cy="699.38" r="1.08" fill="#bcbcbc"/>
<circle cx="377.19" cy="700.16" r="1.49" fill="#bcbcbc"/>
<circle cx="372.49" cy="701.5" r="1.16" fill="#2a2a2a" opacity="0.3"/>
<circle cx="374.05" cy="704.25" r="0.74" fill="#2a2a2a" opacity="0.3"/>
<circle cx="371.49" cy="704.19" r="0.91" fill="#2a2a2a" opacity="0.3"/>
<circle cx="371.56" cy="705.44" r="1.02" fill="#2a2a2a" opacity="0.3"/>
</g>
<g filter="url(#bl)">
<circle cx="391.7" cy="701.25" r="1.3" fill="#c8c8c8"/>
<circle cx="394.3" cy="702.25" r="1.2" fill="#c8c8c8"/>
<circle cx="392.1" cy="705.25" r="1.3" fill="#c8c8c8"/>
</g>
<circle cx="302.2" cy="727.35" r="5.3" fill="#a6a6a6" opacity="1" filter="url(#bl)"/>
<circle cx="320.3" cy="727.35" r="5.3" fill="#a6a6a6" opacity="1" filter="url(#bl)"/>
<circle cx="338.7" cy="727.35" r="5.3" fill="#a6a6a6" opacity="1" filter="url(#bl)"/>
<circle cx="356.1" cy="727.35" r="5.3" fill="#a6a6a6" opacity="1" filter="url(#bl)"/>
<g filter="url(#bl)">
<circle cx="373.7" cy="727.35" r="4.6" fill="#a6a6a6"/>
<circle cx="377.51" cy="727.75" r="1.51" fill="#a6a6a6"/>
<circle cx="377.64" cy="729.75" r="1.27" fill="#a6a6a6"/>
<circle cx="374.68" cy="731.54" r="1.56" fill="#a6a6a6"/>
<circle cx="372.04" cy="730.86" r="1.32" fill="#a6a6a6"/>
<circle cx="370.21" cy="729" r="1.1" fill="#a6a6a6"/>
<circle cx="369.82" cy="726.6" r="1.19" fill="#a6a6a6"/>
<circle cx="371.18" cy="723.61" r="1.17" fill="#a6a6a6"/>
<circle cx="374.38" cy="723.48" r="1.21" fill="#a6a6a6"/>
<circle cx="376.29" cy="724.3" r="1.01" fill="#a6a6a6"/>
<circle cx="374.87" cy="727.61" r="0.79" fill="#2a2a2a" opacity="0.3"/>
<circle cx="373.57" cy="729.52" r="0.75" fill="#2a2a2a" opacity="0.3"/>
<circle cx="375.29" cy="727.01" r="0.95" fill="#2a2a2a" opacity="0.3"/>
<circle cx="375.37" cy="726.82" r="0.95" fill="#2a2a2a" opacity="0.3"/>
</g>
<g filter="url(#bl)">
<circle cx="391.7" cy="725.75" r="1.2" fill="#c8c8c8"/>
<circle cx="393.3" cy="727.75" r="1.3" fill="#c8c8c8"/>
<circle cx="394.5" cy="729.95" r="1.2" fill="#c8c8c8"/>
<circle cx="392.5" cy="730.15" r="1" fill="#c8c8c8"/>
</g>
<circle cx="302.2" cy="751.45" r="5.3" fill="#a8a8a8" opacity="1" filter="url(#bl)"/>
<circle cx="320.3" cy="751.45" r="5.3" fill="#a8a8a8" opacity="1" filter="url(#bl)"/>
<circle cx="338.7" cy="751.45" r="5.3" fill="#a8a8a8" opacity="1" filter="url(#bl)"/>
<circle cx="356.1" cy="751.45" r="5.3" fill="#a8a8a8" opacity="1" filter="url(#bl)"/>
<g filter="url(#bl)">
<circle cx="373.7" cy="751.45" r="4.6" fill="#a8a8a8"/>
<circle cx="378.42" cy="751.76" r="1.21" fill="#a8a8a8"/>
<circle cx="376.76" cy="754.69" r="1.38" fill="#a8a8a8"/>
<circle cx="374.55" cy="755.46" r="1.03" fill="#a8a8a8"/>
<circle cx="372.23" cy="754.98" r="1.44" fill="#a8a8a8"/>
<circle cx="370.15" cy="753.1" r="1.05" fill="#a8a8a8"/>
<circle cx="369.58" cy="749.36" r="1.4" fill="#a8a8a8"/>
<circle cx="371.45" cy="748.15" r="1.18" fill="#a8a8a8"/>
<circle cx="374.32" cy="747.59" r="1.27" fill="#a8a8a8"/>
<circle cx="377.05" cy="748.13" r="1.58" fill="#a8a8a8"/>
<circle cx="373.94" cy="750.17" r="1.18" fill="#2a2a2a" opacity="0.3"/>
<circle cx="372.75" cy="750.73" r="0.7" fill="#2a2a2a" opacity="0.3"/>
<circle cx="373.11" cy="751.32" r="0.95" fill="#2a2a2a" opacity="0.3"/>
<circle cx="372.2" cy="751.47" r="0.7" fill="#2a2a2a" opacity="0.3"/>
</g>
<g filter="url(#bl)">
<circle cx="390.9" cy="750.65" r="1.2" fill="#c8c8c8"/>
<circle cx="393.3" cy="749.65" r="1.3" fill="#c8c8c8"/>
<circle cx="393.5" cy="752.45" r="1.2" fill="#c8c8c8"/>
<circle cx="392.9" cy="754.65" r="1.1" fill="#c8c8c8"/>
</g>
<circle cx="411" cy="534.25" r="5.3" fill="#acacac" opacity="1" filter="url(#bl)"/>
<circle cx="429.3" cy="534.25" r="5.3" fill="#acacac" opacity="1" filter="url(#bl)"/>
<circle cx="447" cy="534.25" r="5.3" fill="#acacac" opacity="1" filter="url(#bl)"/>
<circle cx="464.3" cy="534.25" r="5.3" fill="#acacac" opacity="1" filter="url(#bl)"/>
<g filter="url(#bl)">
<circle cx="481.7" cy="534.25" r="4.6" fill="#acacac"/>
<circle cx="485.53" cy="533.93" r="1.24" fill="#acacac"/>
<circle cx="484.94" cy="536.18" r="1.18" fill="#acacac"/>
<circle cx="482.85" cy="538.43" r="1.32" fill="#acacac"/>
<circle cx="479.17" cy="537.86" r="1.43" fill="#acacac"/>
<circle cx="477.66" cy="535.14" r="1.2" fill="#acacac"/>
<circle cx="478.31" cy="532.32" r="1.43" fill="#acacac"/>
<circle cx="479.97" cy="530.87" r="1.5" fill="#acacac"/>
<circle cx="483.04" cy="530.08" r="1.44" fill="#acacac"/>
<circle cx="484.93" cy="532.09" r="1.31" fill="#acacac"/>
<circle cx="481.72" cy="535.92" r="1.1" fill="#2a2a2a" opacity="0.3"/>
<circle cx="483.33" cy="534.67" r="1.15" fill="#2a2a2a" opacity="0.3"/>
<circle cx="482.61" cy="535.22" r="0.81" fill="#2a2a2a" opacity="0.3"/>
<circle cx="479.36" cy="532.42" r="0.88" fill="#2a2a2a" opacity="0.3"/>
</g>
<g filter="url(#bl)">
<circle cx="498" cy="532.65" r="1.2" fill="#c8c8c8"/>
<circle cx="500.2" cy="532.25" r="1.1" fill="#c8c8c8"/>
<circle cx="501.6" cy="534.05" r="1.2" fill="#c8c8c8"/>
<circle cx="500" cy="534.85" r="1" fill="#c8c8c8"/>
<circle cx="498.6" cy="537.25" r="1" fill="#c8c8c8"/>
<circle cx="500.6" cy="537.65" r="1" fill="#c8c8c8"/>
</g>
<circle cx="410.6" cy="727.05" r="5.3" fill="#a8a8a8" opacity="1" filter="url(#bl)"/>
<circle cx="428.3" cy="727.05" r="5.3" fill="#a8a8a8" opacity="1" filter="url(#bl)"/>
<circle cx="445.3" cy="727.05" r="5.3" fill="#a8a8a8" opacity="1" filter="url(#bl)"/>
<circle cx="463.8" cy="727.05" r="5.3" fill="#a8a8a8" opacity="1" filter="url(#bl)"/>
<g filter="url(#bl)">
<circle cx="481.3" cy="727.05" r="4.6" fill="#a8a8a8"/>
<circle cx="485.84" cy="726.42" r="1.34" fill="#a8a8a8"/>
<circle cx="484.52" cy="730.01" r="1.41" fill="#a8a8a8"/>
<circle cx="481.97" cy="730.74" r="1.48" fill="#a8a8a8"/>
<circle cx="478.86" cy="730.54" r="1.32" fill="#a8a8a8"/>
<circle cx="477.65" cy="728.15" r="1.44" fill="#a8a8a8"/>
<circle cx="477.61" cy="726.06" r="1.16" fill="#a8a8a8"/>
<circle cx="479.6" cy="723.48" r="1.44" fill="#a8a8a8"/>
<circle cx="482.72" cy="723.05" r="1.23" fill="#a8a8a8"/>
<circle cx="484.68" cy="724.18" r="1.46" fill="#a8a8a8"/>
<circle cx="481.88" cy="727.76" r="0.74" fill="#2a2a2a" opacity="0.3"/>
<circle cx="479.54" cy="725.82" r="1.07" fill="#2a2a2a" opacity="0.3"/>
<circle cx="480.32" cy="727.39" r="0.71" fill="#2a2a2a" opacity="0.3"/>
<circle cx="479.1" cy="725.89" r="1.04" fill="#2a2a2a" opacity="0.3"/>
</g>
<g filter="url(#bl)">
<circle cx="498" cy="725.45" r="1.2" fill="#c8c8c8"/>
<circle cx="499.6" cy="727.45" r="1.3" fill="#c8c8c8"/>
<circle cx="500.8" cy="729.65" r="1.2" fill="#c8c8c8"/>
<circle cx="498.8" cy="729.85" r="1" fill="#c8c8c8"/>
</g>
<circle cx="415.8" cy="629.9" r="3.6" fill="none" stroke="#8a8a8a" stroke-width="1" filter="url(#bl)"/>
<g filter="url(#bl)">
<circle cx="193.7" cy="533.3" r="3.5" fill="#b8b8b8"/>
<circle cx="197.06" cy="533.53" r="1.17" fill="#b8b8b8"/>
<circle cx="196.14" cy="535.37" r="1.28" fill="#b8b8b8"/>
<circle cx="194.77" cy="536.66" r="1.12" fill="#b8b8b8"/>
<circle cx="191.43" cy="536.05" r="1.01" fill="#b8b8b8"/>
<circle cx="190.45" cy="534.53" r="1.58" fill="#b8b8b8"/>
<circle cx="190.81" cy="532.31" r="1.13" fill="#b8b8b8"/>
<circle cx="192.62" cy="530.49" r="1.35" fill="#b8b8b8"/>
<circle cx="193.86" cy="530.06" r="1.57" fill="#b8b8b8"/>
<circle cx="196.05" cy="530.75" r="1.31" fill="#b8b8b8"/>
<circle cx="195.17" cy="534.07" r="0.82" fill="#2a2a2a" opacity="0.3"/>
<circle cx="195.21" cy="533.25" r="0.71" fill="#2a2a2a" opacity="0.3"/>
<circle cx="191.81" cy="533.27" r="0.93" fill="#2a2a2a" opacity="0.3"/>
<circle cx="192.95" cy="531.93" r="0.87" fill="#2a2a2a" opacity="0.3"/>
</g>
<circle cx="216.3" cy="535.7" r="1.3" fill="#c0c0c0" opacity="1" filter="url(#bl)"/>
<circle cx="192.3" cy="725.9" r="3.2" fill="none" stroke="#555" stroke-width="0.7" filter="url(#bl)"/>
<circle cx="196.9" cy="726.8" r="1.3" fill="#bbbbbb" opacity="1" filter="url(#bl)"/>
<circle cx="194.2" cy="729.6" r="1" fill="#999999" opacity="1" filter="url(#bl)"/>
<text class="t" x="186.4" y="774" font-size="10.4">10<tspan font-size="7.6" dy="-3.3">-1</tspan></text>
<text class="t" x="286.8" y="774" font-size="10.4" text-anchor="end">10<tspan font-size="7.6" dy="-3.3">-6</tspan></text>
<path d="M211.4,769.8 H259.8 M252.9,766.3 L259.8,769.8 L252.9,773.3" fill="none" stroke="#000" stroke-width="1.2"/>
<text class="t" x="298.3" y="774" font-size="10.4">10<tspan font-size="7.6" dy="-3.3">-1</tspan></text>
<text class="t" x="398.7" y="774" font-size="10.4" text-anchor="end">10<tspan font-size="7.6" dy="-3.3">-6</tspan></text>
<path d="M323.3,769.8 H371.7 M364.8,766.3 L371.7,769.8 L364.8,773.3" fill="none" stroke="#000" stroke-width="1.2"/>
<text class="t" x="406" y="774" font-size="10.4">10<tspan font-size="7.6" dy="-3.3">-1</tspan></text>
<text class="t" x="506.4" y="774" font-size="10.4" text-anchor="end">10<tspan font-size="7.6" dy="-3.3">-6</tspan></text>
<path d="M431,769.8 H479.4 M472.5,766.3 L479.4,769.8 L472.5,773.3" fill="none" stroke="#000" stroke-width="1.2"/>
<text x="348.8" y="789.2" font-size="12" text-anchor="middle" textLength="42" lengthAdjust="spacingAndGlyphs">Dilution</text>
</svg>
</body></html>
